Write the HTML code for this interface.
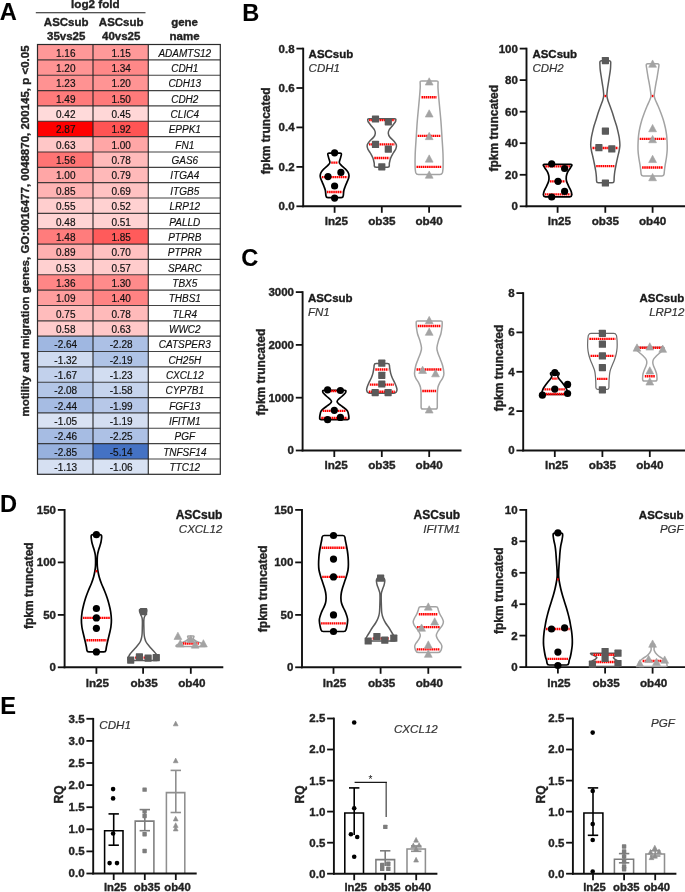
<!DOCTYPE html>
<html><head><meta charset="utf-8"><style>
html,body{margin:0;padding:0;background:#fff;}
body{width:685px;height:892px;overflow:hidden;}
svg{display:block;font-family:"Liberation Sans", sans-serif;will-change:transform;}
</style></head><body>
<svg width="685" height="892" viewBox="0 0 685 892" font-family="'Liberation Sans', sans-serif">
<rect width="685" height="892" fill="#fff"/>
<rect x="37.5" y="44.50" width="55.50" height="15.35" fill="rgb(255,152,152)"/>
<rect x="93.0" y="44.50" width="55.30" height="15.35" fill="rgb(255,153,153)"/>
<text x="65.75" y="56.67" font-size="10" font-weight="normal" font-style="normal" text-anchor="middle" fill="#111"  stroke="#111" stroke-width="0.18">1.16</text>
<text x="121.15" y="56.67" font-size="10" font-weight="normal" font-style="normal" text-anchor="middle" fill="#111"  stroke="#111" stroke-width="0.18">1.15</text>
<text x="184.80" y="56.67" font-size="10" font-weight="normal" font-style="italic" text-anchor="middle" fill="#111"  stroke="#111" stroke-width="0.15">ADAMTS12</text>
<rect x="37.5" y="59.85" width="55.50" height="15.35" fill="rgb(255,148,148)"/>
<rect x="93.0" y="59.85" width="55.30" height="15.35" fill="rgb(255,136,136)"/>
<text x="65.75" y="72.03" font-size="10" font-weight="normal" font-style="normal" text-anchor="middle" fill="#111"  stroke="#111" stroke-width="0.18">1.20</text>
<text x="121.15" y="72.03" font-size="10" font-weight="normal" font-style="normal" text-anchor="middle" fill="#111"  stroke="#111" stroke-width="0.18">1.34</text>
<text x="184.80" y="72.03" font-size="10" font-weight="normal" font-style="italic" text-anchor="middle" fill="#111"  stroke="#111" stroke-width="0.15">CDH1</text>
<rect x="37.5" y="75.20" width="55.50" height="15.35" fill="rgb(255,146,146)"/>
<rect x="93.0" y="75.20" width="55.30" height="15.35" fill="rgb(255,148,148)"/>
<text x="65.75" y="87.38" font-size="10" font-weight="normal" font-style="normal" text-anchor="middle" fill="#111"  stroke="#111" stroke-width="0.18">1.23</text>
<text x="121.15" y="87.38" font-size="10" font-weight="normal" font-style="normal" text-anchor="middle" fill="#111"  stroke="#111" stroke-width="0.18">1.20</text>
<text x="184.80" y="87.38" font-size="10" font-weight="normal" font-style="italic" text-anchor="middle" fill="#111"  stroke="#111" stroke-width="0.15">CDH13</text>
<rect x="37.5" y="90.55" width="55.50" height="15.35" fill="rgb(255,123,123)"/>
<rect x="93.0" y="90.55" width="55.30" height="15.35" fill="rgb(255,122,122)"/>
<text x="65.75" y="102.72" font-size="10" font-weight="normal" font-style="normal" text-anchor="middle" fill="#111"  stroke="#111" stroke-width="0.18">1.49</text>
<text x="121.15" y="102.72" font-size="10" font-weight="normal" font-style="normal" text-anchor="middle" fill="#111"  stroke="#111" stroke-width="0.18">1.50</text>
<text x="184.80" y="102.72" font-size="10" font-weight="normal" font-style="italic" text-anchor="middle" fill="#111"  stroke="#111" stroke-width="0.15">CDH2</text>
<rect x="37.5" y="105.90" width="55.50" height="15.35" fill="rgb(255,218,218)"/>
<rect x="93.0" y="105.90" width="55.30" height="15.35" fill="rgb(255,215,215)"/>
<text x="65.75" y="118.08" font-size="10" font-weight="normal" font-style="normal" text-anchor="middle" fill="#111"  stroke="#111" stroke-width="0.18">0.42</text>
<text x="121.15" y="118.08" font-size="10" font-weight="normal" font-style="normal" text-anchor="middle" fill="#111"  stroke="#111" stroke-width="0.18">0.45</text>
<text x="184.80" y="118.08" font-size="10" font-weight="normal" font-style="italic" text-anchor="middle" fill="#111"  stroke="#111" stroke-width="0.15">CLIC4</text>
<rect x="37.5" y="121.25" width="55.50" height="15.35" fill="rgb(255,0,0)"/>
<rect x="93.0" y="121.25" width="55.30" height="15.35" fill="rgb(255,84,84)"/>
<text x="65.75" y="133.43" font-size="10" font-weight="normal" font-style="normal" text-anchor="middle" fill="#111"  stroke="#111" stroke-width="0.18">2.87</text>
<text x="121.15" y="133.43" font-size="10" font-weight="normal" font-style="normal" text-anchor="middle" fill="#111"  stroke="#111" stroke-width="0.18">1.92</text>
<text x="184.80" y="133.43" font-size="10" font-weight="normal" font-style="italic" text-anchor="middle" fill="#111"  stroke="#111" stroke-width="0.15">EPPK1</text>
<rect x="37.5" y="136.60" width="55.50" height="15.35" fill="rgb(255,199,199)"/>
<rect x="93.0" y="136.60" width="55.30" height="15.35" fill="rgb(255,166,166)"/>
<text x="65.75" y="148.78" font-size="10" font-weight="normal" font-style="normal" text-anchor="middle" fill="#111"  stroke="#111" stroke-width="0.18">0.63</text>
<text x="121.15" y="148.78" font-size="10" font-weight="normal" font-style="normal" text-anchor="middle" fill="#111"  stroke="#111" stroke-width="0.18">1.00</text>
<text x="184.80" y="148.78" font-size="10" font-weight="normal" font-style="italic" text-anchor="middle" fill="#111"  stroke="#111" stroke-width="0.15">FN1</text>
<rect x="37.5" y="151.95" width="55.50" height="15.35" fill="rgb(255,116,116)"/>
<rect x="93.0" y="151.95" width="55.30" height="15.35" fill="rgb(255,186,186)"/>
<text x="65.75" y="164.12" font-size="10" font-weight="normal" font-style="normal" text-anchor="middle" fill="#111"  stroke="#111" stroke-width="0.18">1.56</text>
<text x="121.15" y="164.12" font-size="10" font-weight="normal" font-style="normal" text-anchor="middle" fill="#111"  stroke="#111" stroke-width="0.18">0.78</text>
<text x="184.80" y="164.12" font-size="10" font-weight="normal" font-style="italic" text-anchor="middle" fill="#111"  stroke="#111" stroke-width="0.15">GAS6</text>
<rect x="37.5" y="167.30" width="55.50" height="15.35" fill="rgb(255,166,166)"/>
<rect x="93.0" y="167.30" width="55.30" height="15.35" fill="rgb(255,185,185)"/>
<text x="65.75" y="179.48" font-size="10" font-weight="normal" font-style="normal" text-anchor="middle" fill="#111"  stroke="#111" stroke-width="0.18">1.00</text>
<text x="121.15" y="179.48" font-size="10" font-weight="normal" font-style="normal" text-anchor="middle" fill="#111"  stroke="#111" stroke-width="0.18">0.79</text>
<text x="184.80" y="179.48" font-size="10" font-weight="normal" font-style="italic" text-anchor="middle" fill="#111"  stroke="#111" stroke-width="0.15">ITGA4</text>
<rect x="37.5" y="182.65" width="55.50" height="15.35" fill="rgb(255,179,179)"/>
<rect x="93.0" y="182.65" width="55.30" height="15.35" fill="rgb(255,194,194)"/>
<text x="65.75" y="194.83" font-size="10" font-weight="normal" font-style="normal" text-anchor="middle" fill="#111"  stroke="#111" stroke-width="0.18">0.85</text>
<text x="121.15" y="194.83" font-size="10" font-weight="normal" font-style="normal" text-anchor="middle" fill="#111"  stroke="#111" stroke-width="0.18">0.69</text>
<text x="184.80" y="194.83" font-size="10" font-weight="normal" font-style="italic" text-anchor="middle" fill="#111"  stroke="#111" stroke-width="0.15">ITGB5</text>
<rect x="37.5" y="198.00" width="55.50" height="15.35" fill="rgb(255,206,206)"/>
<rect x="93.0" y="198.00" width="55.30" height="15.35" fill="rgb(255,209,209)"/>
<text x="65.75" y="210.18" font-size="10" font-weight="normal" font-style="normal" text-anchor="middle" fill="#111"  stroke="#111" stroke-width="0.18">0.55</text>
<text x="121.15" y="210.18" font-size="10" font-weight="normal" font-style="normal" text-anchor="middle" fill="#111"  stroke="#111" stroke-width="0.18">0.52</text>
<text x="184.80" y="210.18" font-size="10" font-weight="normal" font-style="italic" text-anchor="middle" fill="#111"  stroke="#111" stroke-width="0.15">LRP12</text>
<rect x="37.5" y="213.35" width="55.50" height="15.35" fill="rgb(255,212,212)"/>
<rect x="93.0" y="213.35" width="55.30" height="15.35" fill="rgb(255,210,210)"/>
<text x="65.75" y="225.53" font-size="10" font-weight="normal" font-style="normal" text-anchor="middle" fill="#111"  stroke="#111" stroke-width="0.18">0.48</text>
<text x="121.15" y="225.53" font-size="10" font-weight="normal" font-style="normal" text-anchor="middle" fill="#111"  stroke="#111" stroke-width="0.18">0.51</text>
<text x="184.80" y="225.53" font-size="10" font-weight="normal" font-style="italic" text-anchor="middle" fill="#111"  stroke="#111" stroke-width="0.15">PALLD</text>
<rect x="37.5" y="228.70" width="55.50" height="15.35" fill="rgb(255,124,124)"/>
<rect x="93.0" y="228.70" width="55.30" height="15.35" fill="rgb(255,91,91)"/>
<text x="65.75" y="240.88" font-size="10" font-weight="normal" font-style="normal" text-anchor="middle" fill="#111"  stroke="#111" stroke-width="0.18">1.48</text>
<text x="121.15" y="240.88" font-size="10" font-weight="normal" font-style="normal" text-anchor="middle" fill="#111"  stroke="#111" stroke-width="0.18">1.85</text>
<text x="184.80" y="240.88" font-size="10" font-weight="normal" font-style="italic" text-anchor="middle" fill="#111"  stroke="#111" stroke-width="0.15">PTPRB</text>
<rect x="37.5" y="244.05" width="55.50" height="15.35" fill="rgb(255,176,176)"/>
<rect x="93.0" y="244.05" width="55.30" height="15.35" fill="rgb(255,193,193)"/>
<text x="65.75" y="256.23" font-size="10" font-weight="normal" font-style="normal" text-anchor="middle" fill="#111"  stroke="#111" stroke-width="0.18">0.89</text>
<text x="121.15" y="256.23" font-size="10" font-weight="normal" font-style="normal" text-anchor="middle" fill="#111"  stroke="#111" stroke-width="0.18">0.70</text>
<text x="184.80" y="256.23" font-size="10" font-weight="normal" font-style="italic" text-anchor="middle" fill="#111"  stroke="#111" stroke-width="0.15">PTPRR</text>
<rect x="37.5" y="259.40" width="55.50" height="15.35" fill="rgb(255,208,208)"/>
<rect x="93.0" y="259.40" width="55.30" height="15.35" fill="rgb(255,204,204)"/>
<text x="65.75" y="271.57" font-size="10" font-weight="normal" font-style="normal" text-anchor="middle" fill="#111"  stroke="#111" stroke-width="0.18">0.53</text>
<text x="121.15" y="271.57" font-size="10" font-weight="normal" font-style="normal" text-anchor="middle" fill="#111"  stroke="#111" stroke-width="0.18">0.57</text>
<text x="184.80" y="271.57" font-size="10" font-weight="normal" font-style="italic" text-anchor="middle" fill="#111"  stroke="#111" stroke-width="0.15">SPARC</text>
<rect x="37.5" y="274.75" width="55.50" height="15.35" fill="rgb(255,134,134)"/>
<rect x="93.0" y="274.75" width="55.30" height="15.35" fill="rgb(255,139,139)"/>
<text x="65.75" y="286.93" font-size="10" font-weight="normal" font-style="normal" text-anchor="middle" fill="#111"  stroke="#111" stroke-width="0.18">1.36</text>
<text x="121.15" y="286.93" font-size="10" font-weight="normal" font-style="normal" text-anchor="middle" fill="#111"  stroke="#111" stroke-width="0.18">1.30</text>
<text x="184.80" y="286.93" font-size="10" font-weight="normal" font-style="italic" text-anchor="middle" fill="#111"  stroke="#111" stroke-width="0.15">TBX5</text>
<rect x="37.5" y="290.10" width="55.50" height="15.35" fill="rgb(255,158,158)"/>
<rect x="93.0" y="290.10" width="55.30" height="15.35" fill="rgb(255,131,131)"/>
<text x="65.75" y="302.28" font-size="10" font-weight="normal" font-style="normal" text-anchor="middle" fill="#111"  stroke="#111" stroke-width="0.18">1.09</text>
<text x="121.15" y="302.28" font-size="10" font-weight="normal" font-style="normal" text-anchor="middle" fill="#111"  stroke="#111" stroke-width="0.18">1.40</text>
<text x="184.80" y="302.28" font-size="10" font-weight="normal" font-style="italic" text-anchor="middle" fill="#111"  stroke="#111" stroke-width="0.15">THBS1</text>
<rect x="37.5" y="305.45" width="55.50" height="15.35" fill="rgb(255,188,188)"/>
<rect x="93.0" y="305.45" width="55.30" height="15.35" fill="rgb(255,186,186)"/>
<text x="65.75" y="317.62" font-size="10" font-weight="normal" font-style="normal" text-anchor="middle" fill="#111"  stroke="#111" stroke-width="0.18">0.75</text>
<text x="121.15" y="317.62" font-size="10" font-weight="normal" font-style="normal" text-anchor="middle" fill="#111"  stroke="#111" stroke-width="0.18">0.78</text>
<text x="184.80" y="317.62" font-size="10" font-weight="normal" font-style="italic" text-anchor="middle" fill="#111"  stroke="#111" stroke-width="0.15">TLR4</text>
<rect x="37.5" y="320.80" width="55.50" height="15.35" fill="rgb(255,203,203)"/>
<rect x="93.0" y="320.80" width="55.30" height="15.35" fill="rgb(255,199,199)"/>
<text x="65.75" y="332.98" font-size="10" font-weight="normal" font-style="normal" text-anchor="middle" fill="#111"  stroke="#111" stroke-width="0.18">0.58</text>
<text x="121.15" y="332.98" font-size="10" font-weight="normal" font-style="normal" text-anchor="middle" fill="#111"  stroke="#111" stroke-width="0.18">0.63</text>
<text x="184.80" y="332.98" font-size="10" font-weight="normal" font-style="italic" text-anchor="middle" fill="#111"  stroke="#111" stroke-width="0.15">WWC2</text>
<rect x="37.5" y="336.15" width="55.50" height="15.35" fill="rgb(159,183,225)"/>
<rect x="93.0" y="336.15" width="55.30" height="15.35" fill="rgb(172,192,229)"/>
<text x="65.75" y="348.32" font-size="10" font-weight="normal" font-style="normal" text-anchor="middle" fill="#111"  stroke="#111" stroke-width="0.18">-2.64</text>
<text x="121.15" y="348.32" font-size="10" font-weight="normal" font-style="normal" text-anchor="middle" fill="#111"  stroke="#111" stroke-width="0.18">-2.28</text>
<text x="184.80" y="348.32" font-size="10" font-weight="normal" font-style="italic" text-anchor="middle" fill="#111"  stroke="#111" stroke-width="0.15">CATSPER3</text>
<rect x="37.5" y="351.50" width="55.50" height="15.35" fill="rgb(207,219,240)"/>
<rect x="93.0" y="351.50" width="55.30" height="15.35" fill="rgb(175,195,230)"/>
<text x="65.75" y="363.68" font-size="10" font-weight="normal" font-style="normal" text-anchor="middle" fill="#111"  stroke="#111" stroke-width="0.18">-1.32</text>
<text x="121.15" y="363.68" font-size="10" font-weight="normal" font-style="normal" text-anchor="middle" fill="#111"  stroke="#111" stroke-width="0.18">-2.19</text>
<text x="184.80" y="363.68" font-size="10" font-weight="normal" font-style="italic" text-anchor="middle" fill="#111"  stroke="#111" stroke-width="0.15">CH25H</text>
<rect x="37.5" y="366.85" width="55.50" height="15.35" fill="rgb(194,209,236)"/>
<rect x="93.0" y="366.85" width="55.30" height="15.35" fill="rgb(210,221,241)"/>
<text x="65.75" y="379.02" font-size="10" font-weight="normal" font-style="normal" text-anchor="middle" fill="#111"  stroke="#111" stroke-width="0.18">-1.67</text>
<text x="121.15" y="379.02" font-size="10" font-weight="normal" font-style="normal" text-anchor="middle" fill="#111"  stroke="#111" stroke-width="0.18">-1.23</text>
<text x="184.80" y="379.02" font-size="10" font-weight="normal" font-style="italic" text-anchor="middle" fill="#111"  stroke="#111" stroke-width="0.15">CXCL12</text>
<rect x="37.5" y="382.20" width="55.50" height="15.35" fill="rgb(179,198,231)"/>
<rect x="93.0" y="382.20" width="55.30" height="15.35" fill="rgb(198,212,237)"/>
<text x="65.75" y="394.38" font-size="10" font-weight="normal" font-style="normal" text-anchor="middle" fill="#111"  stroke="#111" stroke-width="0.18">-2.08</text>
<text x="121.15" y="394.38" font-size="10" font-weight="normal" font-style="normal" text-anchor="middle" fill="#111"  stroke="#111" stroke-width="0.18">-1.58</text>
<text x="184.80" y="394.38" font-size="10" font-weight="normal" font-style="italic" text-anchor="middle" fill="#111"  stroke="#111" stroke-width="0.15">CYP7B1</text>
<rect x="37.5" y="397.55" width="55.50" height="15.35" fill="rgb(166,188,227)"/>
<rect x="93.0" y="397.55" width="55.30" height="15.35" fill="rgb(183,200,232)"/>
<text x="65.75" y="409.73" font-size="10" font-weight="normal" font-style="normal" text-anchor="middle" fill="#111"  stroke="#111" stroke-width="0.18">-2.44</text>
<text x="121.15" y="409.73" font-size="10" font-weight="normal" font-style="normal" text-anchor="middle" fill="#111"  stroke="#111" stroke-width="0.18">-1.99</text>
<text x="184.80" y="409.73" font-size="10" font-weight="normal" font-style="italic" text-anchor="middle" fill="#111"  stroke="#111" stroke-width="0.15">FGF13</text>
<rect x="37.5" y="412.90" width="55.50" height="15.35" fill="rgb(217,226,243)"/>
<rect x="93.0" y="412.90" width="55.30" height="15.35" fill="rgb(212,222,241)"/>
<text x="65.75" y="425.07" font-size="10" font-weight="normal" font-style="normal" text-anchor="middle" fill="#111"  stroke="#111" stroke-width="0.18">-1.05</text>
<text x="121.15" y="425.07" font-size="10" font-weight="normal" font-style="normal" text-anchor="middle" fill="#111"  stroke="#111" stroke-width="0.18">-1.19</text>
<text x="184.80" y="425.07" font-size="10" font-weight="normal" font-style="italic" text-anchor="middle" fill="#111"  stroke="#111" stroke-width="0.15">IFITM1</text>
<rect x="37.5" y="428.25" width="55.50" height="15.35" fill="rgb(166,188,227)"/>
<rect x="93.0" y="428.25" width="55.30" height="15.35" fill="rgb(173,193,229)"/>
<text x="65.75" y="440.43" font-size="10" font-weight="normal" font-style="normal" text-anchor="middle" fill="#111"  stroke="#111" stroke-width="0.18">-2.46</text>
<text x="121.15" y="440.43" font-size="10" font-weight="normal" font-style="normal" text-anchor="middle" fill="#111"  stroke="#111" stroke-width="0.18">-2.25</text>
<text x="184.80" y="440.43" font-size="10" font-weight="normal" font-style="italic" text-anchor="middle" fill="#111"  stroke="#111" stroke-width="0.15">PGF</text>
<rect x="37.5" y="443.60" width="55.50" height="15.35" fill="rgb(151,177,222)"/>
<rect x="93.0" y="443.60" width="55.30" height="15.35" fill="rgb(68,114,196)"/>
<text x="65.75" y="455.77" font-size="10" font-weight="normal" font-style="normal" text-anchor="middle" fill="#111"  stroke="#111" stroke-width="0.18">-2.85</text>
<text x="121.15" y="455.77" font-size="10" font-weight="normal" font-style="normal" text-anchor="middle" fill="#111"  stroke="#111" stroke-width="0.18">-5.14</text>
<text x="184.80" y="455.77" font-size="10" font-weight="normal" font-style="italic" text-anchor="middle" fill="#111"  stroke="#111" stroke-width="0.15">TNFSF14</text>
<rect x="37.5" y="458.95" width="55.50" height="15.35" fill="rgb(214,224,242)"/>
<rect x="93.0" y="458.95" width="55.30" height="15.35" fill="rgb(216,226,243)"/>
<text x="65.75" y="471.12" font-size="10" font-weight="normal" font-style="normal" text-anchor="middle" fill="#111"  stroke="#111" stroke-width="0.18">-1.13</text>
<text x="121.15" y="471.12" font-size="10" font-weight="normal" font-style="normal" text-anchor="middle" fill="#111"  stroke="#111" stroke-width="0.18">-1.06</text>
<text x="184.80" y="471.12" font-size="10" font-weight="normal" font-style="italic" text-anchor="middle" fill="#111"  stroke="#111" stroke-width="0.15">TTC12</text>
<line x1="37.50" y1="59.85" x2="220.30" y2="59.85" stroke="#222" stroke-width="1.15" stroke-opacity="0.85"/>
<line x1="37.50" y1="75.20" x2="220.30" y2="75.20" stroke="#222" stroke-width="1.15" stroke-opacity="0.85"/>
<line x1="37.50" y1="90.55" x2="220.30" y2="90.55" stroke="#222" stroke-width="1.15" stroke-opacity="0.85"/>
<line x1="37.50" y1="105.90" x2="220.30" y2="105.90" stroke="#222" stroke-width="1.15" stroke-opacity="0.85"/>
<line x1="37.50" y1="121.25" x2="220.30" y2="121.25" stroke="#222" stroke-width="1.15" stroke-opacity="0.85"/>
<line x1="37.50" y1="136.60" x2="220.30" y2="136.60" stroke="#222" stroke-width="1.15" stroke-opacity="0.85"/>
<line x1="37.50" y1="151.95" x2="220.30" y2="151.95" stroke="#222" stroke-width="1.15" stroke-opacity="0.85"/>
<line x1="37.50" y1="167.30" x2="220.30" y2="167.30" stroke="#222" stroke-width="1.15" stroke-opacity="0.85"/>
<line x1="37.50" y1="182.65" x2="220.30" y2="182.65" stroke="#222" stroke-width="1.15" stroke-opacity="0.85"/>
<line x1="37.50" y1="198.00" x2="220.30" y2="198.00" stroke="#222" stroke-width="1.15" stroke-opacity="0.85"/>
<line x1="37.50" y1="213.35" x2="220.30" y2="213.35" stroke="#222" stroke-width="1.15" stroke-opacity="0.85"/>
<line x1="37.50" y1="228.70" x2="220.30" y2="228.70" stroke="#222" stroke-width="1.15" stroke-opacity="0.85"/>
<line x1="37.50" y1="244.05" x2="220.30" y2="244.05" stroke="#222" stroke-width="1.15" stroke-opacity="0.85"/>
<line x1="37.50" y1="259.40" x2="220.30" y2="259.40" stroke="#222" stroke-width="1.15" stroke-opacity="0.85"/>
<line x1="37.50" y1="274.75" x2="220.30" y2="274.75" stroke="#222" stroke-width="1.15" stroke-opacity="0.85"/>
<line x1="37.50" y1="290.10" x2="220.30" y2="290.10" stroke="#222" stroke-width="1.15" stroke-opacity="0.85"/>
<line x1="37.50" y1="305.45" x2="220.30" y2="305.45" stroke="#222" stroke-width="1.15" stroke-opacity="0.85"/>
<line x1="37.50" y1="320.80" x2="220.30" y2="320.80" stroke="#222" stroke-width="1.15" stroke-opacity="0.85"/>
<line x1="37.50" y1="336.15" x2="220.30" y2="336.15" stroke="#222" stroke-width="1.15" stroke-opacity="0.85"/>
<line x1="37.50" y1="351.50" x2="220.30" y2="351.50" stroke="#222" stroke-width="1.15" stroke-opacity="0.85"/>
<line x1="37.50" y1="366.85" x2="220.30" y2="366.85" stroke="#222" stroke-width="1.15" stroke-opacity="0.85"/>
<line x1="37.50" y1="382.20" x2="220.30" y2="382.20" stroke="#222" stroke-width="1.15" stroke-opacity="0.85"/>
<line x1="37.50" y1="397.55" x2="220.30" y2="397.55" stroke="#222" stroke-width="1.15" stroke-opacity="0.85"/>
<line x1="37.50" y1="412.90" x2="220.30" y2="412.90" stroke="#222" stroke-width="1.15" stroke-opacity="0.85"/>
<line x1="37.50" y1="428.25" x2="220.30" y2="428.25" stroke="#222" stroke-width="1.15" stroke-opacity="0.85"/>
<line x1="37.50" y1="443.60" x2="220.30" y2="443.60" stroke="#222" stroke-width="1.15" stroke-opacity="0.85"/>
<line x1="37.50" y1="458.95" x2="220.30" y2="458.95" stroke="#222" stroke-width="1.15" stroke-opacity="0.85"/>
<line x1="93.00" y1="44.50" x2="93.00" y2="474.30" stroke="#222" stroke-width="1.2" stroke-opacity="0.9"/>
<line x1="148.30" y1="44.50" x2="148.30" y2="474.30" stroke="#222" stroke-width="1.2" stroke-opacity="0.9"/>
<rect x="37.5" y="44.5" width="182.80" height="429.80" fill="none" stroke="#2a2a2a" stroke-width="1.2"/>
<text x="-0.20" y="20.30" font-size="23.6" font-weight="bold" font-style="normal" text-anchor="start" fill="#000" stroke="#000" stroke-width="0.1" >A</text>
<text x="95.40" y="8.30" font-size="11.7" font-weight="bold" font-style="normal" text-anchor="middle" fill="#222" stroke="#222" stroke-width="0.35" >log2 fold</text>
<line x1="35.80" y1="12.80" x2="145.50" y2="12.80" stroke="#1a1a1a" stroke-width="1.1" />
<text x="66.20" y="26.20" font-size="11.5" font-weight="bold" font-style="normal" text-anchor="middle" fill="#222" stroke="#222" stroke-width="0.35" >ASCsub</text>
<text x="66.20" y="39.80" font-size="11.5" font-weight="bold" font-style="normal" text-anchor="middle" fill="#222" stroke="#222" stroke-width="0.35" >35vs25</text>
<text x="121.20" y="26.20" font-size="11.5" font-weight="bold" font-style="normal" text-anchor="middle" fill="#222" stroke="#222" stroke-width="0.35" >ASCsub</text>
<text x="121.20" y="39.80" font-size="11.5" font-weight="bold" font-style="normal" text-anchor="middle" fill="#222" stroke="#222" stroke-width="0.35" >40vs25</text>
<text x="184.60" y="26.40" font-size="11.5" font-weight="bold" font-style="normal" text-anchor="middle" fill="#222" stroke="#222" stroke-width="0.35" >gene</text>
<text x="184.60" y="40.10" font-size="11.5" font-weight="bold" font-style="normal" text-anchor="middle" fill="#222" stroke="#222" stroke-width="0.35" >name</text>
<text transform="translate(28.6,231) rotate(-90)" font-size="11.5" font-weight="bold" text-anchor="middle" fill="#222" stroke="#222" stroke-width="0.35">motility and migration genes, GO:0016477, 0048870, 200145, p &lt;0.05</text>
<text x="242.30" y="20.50" font-size="23.6" font-weight="bold" font-style="normal" text-anchor="start" fill="#000" stroke="#000" stroke-width="0.1" >B</text>
<line x1="303.20" y1="47.70" x2="303.20" y2="207.20" stroke="#111" stroke-width="1.9" />
<line x1="296.40" y1="48.60" x2="303.20" y2="48.60" stroke="#111" stroke-width="1.8" />
<text x="294.60" y="52.50" font-size="11.5" font-weight="bold" font-style="normal" text-anchor="end" fill="#222" stroke="#222" stroke-width="0.35" >0.8</text>
<line x1="296.40" y1="88.00" x2="303.20" y2="88.00" stroke="#111" stroke-width="1.8" />
<text x="294.60" y="91.90" font-size="11.5" font-weight="bold" font-style="normal" text-anchor="end" fill="#222" stroke="#222" stroke-width="0.35" >0.6</text>
<line x1="296.40" y1="127.40" x2="303.20" y2="127.40" stroke="#111" stroke-width="1.8" />
<text x="294.60" y="131.30" font-size="11.5" font-weight="bold" font-style="normal" text-anchor="end" fill="#222" stroke="#222" stroke-width="0.35" >0.4</text>
<line x1="296.40" y1="166.90" x2="303.20" y2="166.90" stroke="#111" stroke-width="1.8" />
<text x="294.60" y="170.80" font-size="11.5" font-weight="bold" font-style="normal" text-anchor="end" fill="#222" stroke="#222" stroke-width="0.35" >0.2</text>
<line x1="296.40" y1="206.30" x2="303.20" y2="206.30" stroke="#111" stroke-width="1.8" />
<text x="294.60" y="210.20" font-size="11.5" font-weight="bold" font-style="normal" text-anchor="end" fill="#222" stroke="#222" stroke-width="0.35" >0.0</text>
<line x1="302.30" y1="206.30" x2="461.50" y2="206.30" stroke="#111" stroke-width="1.9" />
<line x1="334.60" y1="206.30" x2="334.60" y2="212.80" stroke="#111" stroke-width="1.8" />
<text x="336.40" y="224.50" font-size="11.7" font-weight="bold" font-style="normal" text-anchor="middle" fill="#222" stroke="#222" stroke-width="0.35" >ln25</text>
<line x1="381.80" y1="206.30" x2="381.80" y2="212.80" stroke="#111" stroke-width="1.8" />
<text x="381.80" y="224.50" font-size="11.7" font-weight="bold" font-style="normal" text-anchor="middle" fill="#222" stroke="#222" stroke-width="0.35" >ob35</text>
<line x1="429.10" y1="206.30" x2="429.10" y2="212.80" stroke="#111" stroke-width="1.8" />
<text x="429.10" y="224.50" font-size="11.7" font-weight="bold" font-style="normal" text-anchor="middle" fill="#222" stroke="#222" stroke-width="0.35" >ob40</text>
<text transform="translate(269.85,130.85) rotate(-90)" font-size="12" font-weight="bold" text-anchor="middle" fill="#222" stroke="#222" stroke-width="0.35">fpkm truncated</text>
<text x="308.60" y="57.70" font-size="11.5" font-weight="bold" font-style="normal" text-anchor="start" fill="#1a1a1a" stroke="#1a1a1a" stroke-width="0.35" >ASCsub</text>
<text x="308.60" y="71.70" font-size="11.5" font-weight="normal" font-style="italic" text-anchor="start" fill="#333"  stroke="#333" stroke-width="0.2">CDH1</text>
<path d="M329.20,153.10 L340.00,153.10 Q341.80,153.10 341.32,154.90 C341.17,155.48 340.74,157.13 340.40,158.40 C340.06,159.67 339.18,161.37 339.30,162.50 C339.42,163.63 340.18,164.20 341.10,165.20 C342.02,166.20 343.68,167.38 344.80,168.50 C345.92,169.62 347.10,170.77 347.80,171.90 C348.50,173.03 348.88,174.18 349.00,175.30 C349.12,176.42 348.87,177.38 348.50,178.60 C348.13,179.82 347.37,181.25 346.80,182.60 C346.23,183.95 345.60,185.35 345.10,186.70 C344.60,188.05 344.08,189.37 343.80,190.70 C343.52,192.03 343.49,193.85 343.40,194.70 C343.31,195.55 343.27,195.62 343.25,195.80 Q343.00,197.60 341.20,197.60 L328.00,197.60 Q326.20,197.60 325.95,195.80 C325.93,195.62 325.89,195.55 325.80,194.70 C325.71,193.85 325.68,192.03 325.40,190.70 C325.12,189.37 324.60,188.05 324.10,186.70 C323.60,185.35 322.97,183.95 322.40,182.60 C321.83,181.25 321.07,179.82 320.70,178.60 C320.33,177.38 320.08,176.42 320.20,175.30 C320.32,174.18 320.70,173.03 321.40,171.90 C322.10,170.77 323.28,169.62 324.40,168.50 C325.52,167.38 327.18,166.20 328.10,165.20 C329.02,164.20 329.78,163.63 329.90,162.50 C330.02,161.37 329.14,159.67 328.80,158.40 C328.46,157.13 328.03,155.48 327.88,154.90 Q327.40,153.10 329.20,153.10 Z" fill="none" stroke="#000" stroke-width="1.7" stroke-linejoin="round"/>
<path d="M369.00,118.80 L394.60,118.80 Q396.40,118.80 395.78,120.60 C395.70,120.83 395.96,121.02 395.30,122.00 C394.64,122.98 392.83,125.17 391.80,126.50 C390.77,127.83 389.68,128.87 389.10,130.00 C388.52,131.13 388.18,132.13 388.30,133.30 C388.42,134.47 388.88,135.72 389.80,137.00 C390.72,138.28 392.70,139.67 393.80,141.00 C394.90,142.33 396.07,143.67 396.40,145.00 C396.73,146.33 396.32,147.67 395.80,149.00 C395.28,150.33 394.15,151.50 393.30,153.00 C392.45,154.50 391.35,156.33 390.70,158.00 C390.05,159.67 389.63,161.75 389.40,163.00 C389.17,164.25 389.35,165.08 389.34,165.50 Q389.30,167.30 387.50,167.30 L376.10,167.30 Q374.30,167.30 374.26,165.50 C374.25,165.08 374.43,164.25 374.20,163.00 C373.97,161.75 373.55,159.67 372.90,158.00 C372.25,156.33 371.15,154.50 370.30,153.00 C369.45,151.50 368.32,150.33 367.80,149.00 C367.28,147.67 366.87,146.33 367.20,145.00 C367.53,143.67 368.70,142.33 369.80,141.00 C370.90,139.67 372.88,138.28 373.80,137.00 C374.72,135.72 375.18,134.47 375.30,133.30 C375.42,132.13 375.08,131.13 374.50,130.00 C373.92,128.87 372.83,127.83 371.80,126.50 C370.77,125.17 368.96,122.98 368.30,122.00 C367.64,121.02 367.90,120.83 367.82,120.60 Q367.20,118.80 369.00,118.80 Z" fill="none" stroke="#5a5a5a" stroke-width="1.5" stroke-linejoin="round"/>
<path d="M421.80,80.90 L436.40,80.90 Q438.20,80.90 438.08,82.70 C438.07,82.92 438.01,83.12 438.00,84.00 C437.99,84.88 437.88,85.78 438.00,88.00 C438.12,90.22 438.42,93.97 438.70,97.30 C438.98,100.63 439.33,104.05 439.70,108.00 C440.07,111.95 440.53,116.33 440.90,121.00 C441.27,125.67 441.55,130.50 441.90,136.00 C442.25,141.50 442.80,148.83 443.00,154.00 C443.20,159.17 443.17,164.00 443.10,167.00 C443.03,170.00 442.73,171.05 442.60,172.00 C442.47,172.95 442.39,172.58 442.35,172.70 Q441.70,174.50 439.90,174.50 L418.30,174.50 Q416.50,174.50 415.85,172.70 C415.81,172.58 415.73,172.95 415.60,172.00 C415.47,171.05 415.17,170.00 415.10,167.00 C415.03,164.00 415.00,159.17 415.20,154.00 C415.40,148.83 415.95,141.50 416.30,136.00 C416.65,130.50 416.93,125.67 417.30,121.00 C417.67,116.33 418.13,111.95 418.50,108.00 C418.87,104.05 419.22,100.63 419.50,97.30 C419.78,93.97 420.08,90.22 420.20,88.00 C420.32,85.78 420.21,84.88 420.20,84.00 C420.19,83.12 420.13,82.92 420.12,82.70 Q420.00,80.90 421.80,80.90 Z" fill="none" stroke="#a3a3a3" stroke-width="1.5" stroke-linejoin="round"/>
<line x1="331.23" y1="162.60" x2="337.97" y2="162.60" stroke="#ff0000" stroke-width="2.35" stroke-dasharray="1.6 0.5"/>
<line x1="321.87" y1="177.10" x2="347.33" y2="177.10" stroke="#ff0000" stroke-width="2.35" stroke-dasharray="1.6 0.5"/>
<line x1="326.93" y1="192.00" x2="342.27" y2="192.00" stroke="#ff0000" stroke-width="2.35" stroke-dasharray="1.6 0.5"/>
<line x1="369.05" y1="120.10" x2="394.55" y2="120.10" stroke="#ff0000" stroke-width="2.35" stroke-dasharray="1.6 0.5"/>
<line x1="368.99" y1="144.40" x2="394.61" y2="144.40" stroke="#ff0000" stroke-width="2.35" stroke-dasharray="1.6 0.5"/>
<line x1="374.30" y1="158.00" x2="389.30" y2="158.00" stroke="#ff0000" stroke-width="2.35" stroke-dasharray="1.6 0.5"/>
<line x1="421.50" y1="97.20" x2="436.70" y2="97.20" stroke="#ff0000" stroke-width="2.35" stroke-dasharray="1.6 0.5"/>
<line x1="417.71" y1="135.80" x2="440.49" y2="135.80" stroke="#ff0000" stroke-width="2.35" stroke-dasharray="1.6 0.5"/>
<line x1="416.50" y1="166.80" x2="441.70" y2="166.80" stroke="#ff0000" stroke-width="2.35" stroke-dasharray="1.6 0.5"/>
<circle cx="334.60" cy="152.80" r="3.6" fill="#000"/>
<circle cx="328.00" cy="176.60" r="3.6" fill="#000"/>
<circle cx="340.90" cy="172.40" r="3.6" fill="#000"/>
<circle cx="334.60" cy="186.00" r="3.6" fill="#000"/>
<circle cx="334.60" cy="198.10" r="3.6" fill="#000"/>
<rect x="371.90" y="115.40" width="7.2" height="7.2" rx="0.6" fill="#5a5a5a"/>
<rect x="384.70" y="118.20" width="7.2" height="7.2" rx="0.6" fill="#5a5a5a"/>
<rect x="371.90" y="140.80" width="7.2" height="7.2" rx="0.6" fill="#5a5a5a"/>
<rect x="384.70" y="145.50" width="7.2" height="7.2" rx="0.6" fill="#5a5a5a"/>
<rect x="378.20" y="163.20" width="7.2" height="7.2" rx="0.6" fill="#5a5a5a"/>
<path d="M429.20,77.75 L433.10,85.05 L425.30,85.05 Z" fill="#a3a3a3" stroke="#a3a3a3" stroke-width="0.6" stroke-linejoin="round"/>
<path d="M429.20,109.75 L433.10,117.05 L425.30,117.05 Z" fill="#a3a3a3" stroke="#a3a3a3" stroke-width="0.6" stroke-linejoin="round"/>
<path d="M429.20,132.35 L433.10,139.65 L425.30,139.65 Z" fill="#a3a3a3" stroke="#a3a3a3" stroke-width="0.6" stroke-linejoin="round"/>
<path d="M429.20,154.85 L433.10,162.15 L425.30,162.15 Z" fill="#a3a3a3" stroke="#a3a3a3" stroke-width="0.6" stroke-linejoin="round"/>
<path d="M429.20,170.95 L433.10,178.25 L425.30,178.25 Z" fill="#a3a3a3" stroke="#a3a3a3" stroke-width="0.6" stroke-linejoin="round"/>
<line x1="526.50" y1="47.70" x2="526.50" y2="207.20" stroke="#111" stroke-width="1.9" />
<line x1="519.70" y1="48.60" x2="526.50" y2="48.60" stroke="#111" stroke-width="1.8" />
<text x="517.90" y="52.50" font-size="11.5" font-weight="bold" font-style="normal" text-anchor="end" fill="#222" stroke="#222" stroke-width="0.35" >100</text>
<line x1="519.70" y1="80.10" x2="526.50" y2="80.10" stroke="#111" stroke-width="1.8" />
<text x="517.90" y="84.00" font-size="11.5" font-weight="bold" font-style="normal" text-anchor="end" fill="#222" stroke="#222" stroke-width="0.35" >80</text>
<line x1="519.70" y1="111.70" x2="526.50" y2="111.70" stroke="#111" stroke-width="1.8" />
<text x="517.90" y="115.60" font-size="11.5" font-weight="bold" font-style="normal" text-anchor="end" fill="#222" stroke="#222" stroke-width="0.35" >60</text>
<line x1="519.70" y1="143.20" x2="526.50" y2="143.20" stroke="#111" stroke-width="1.8" />
<text x="517.90" y="147.10" font-size="11.5" font-weight="bold" font-style="normal" text-anchor="end" fill="#222" stroke="#222" stroke-width="0.35" >40</text>
<line x1="519.70" y1="174.80" x2="526.50" y2="174.80" stroke="#111" stroke-width="1.8" />
<text x="517.90" y="178.70" font-size="11.5" font-weight="bold" font-style="normal" text-anchor="end" fill="#222" stroke="#222" stroke-width="0.35" >20</text>
<line x1="519.70" y1="206.30" x2="526.50" y2="206.30" stroke="#111" stroke-width="1.8" />
<text x="517.90" y="210.20" font-size="11.5" font-weight="bold" font-style="normal" text-anchor="end" fill="#222" stroke="#222" stroke-width="0.35" >0</text>
<line x1="525.60" y1="206.30" x2="685.00" y2="206.30" stroke="#111" stroke-width="1.9" />
<line x1="557.60" y1="206.30" x2="557.60" y2="212.80" stroke="#111" stroke-width="1.8" />
<text x="559.40" y="224.50" font-size="11.7" font-weight="bold" font-style="normal" text-anchor="middle" fill="#222" stroke="#222" stroke-width="0.35" >ln25</text>
<line x1="605.30" y1="206.30" x2="605.30" y2="212.80" stroke="#111" stroke-width="1.8" />
<text x="605.30" y="224.50" font-size="11.7" font-weight="bold" font-style="normal" text-anchor="middle" fill="#222" stroke="#222" stroke-width="0.35" >ob35</text>
<line x1="652.60" y1="206.30" x2="652.60" y2="212.80" stroke="#111" stroke-width="1.8" />
<text x="652.60" y="224.50" font-size="11.7" font-weight="bold" font-style="normal" text-anchor="middle" fill="#222" stroke="#222" stroke-width="0.35" >ob40</text>
<text transform="translate(497.75,128.25) rotate(-90)" font-size="12" font-weight="bold" text-anchor="middle" fill="#222" stroke="#222" stroke-width="0.35">fpkm truncated</text>
<text x="532.40" y="57.70" font-size="11.5" font-weight="bold" font-style="normal" text-anchor="start" fill="#1a1a1a" stroke="#1a1a1a" stroke-width="0.35" >ASCsub</text>
<text x="532.40" y="71.70" font-size="11.5" font-weight="normal" font-style="italic" text-anchor="start" fill="#333"  stroke="#333" stroke-width="0.2">CDH2</text>
<path d="M544.28,164.30 L570.92,164.30 Q572.00,164.30 571.82,165.38 C571.82,165.40 572.07,165.03 571.80,165.50 C571.53,165.97 570.92,167.07 570.20,168.20 C569.48,169.33 568.15,170.93 567.50,172.30 C566.85,173.67 566.47,174.95 566.30,176.40 C566.13,177.85 566.12,179.38 566.50,181.00 C566.88,182.62 567.83,184.40 568.60,186.10 C569.37,187.80 570.57,189.80 571.10,191.20 C571.63,192.60 571.69,193.87 571.80,194.50 C571.91,195.13 571.76,194.92 571.76,195.00 Q571.60,196.80 569.80,196.80 L545.40,196.80 Q543.60,196.80 543.44,195.00 C543.44,194.92 543.29,195.13 543.40,194.50 C543.51,193.87 543.57,192.60 544.10,191.20 C544.63,189.80 545.83,187.80 546.60,186.10 C547.37,184.40 548.32,182.62 548.70,181.00 C549.08,179.38 549.07,177.85 548.90,176.40 C548.73,174.95 548.35,173.67 547.70,172.30 C547.05,170.93 545.72,169.33 545.00,168.20 C544.28,167.07 543.67,165.97 543.40,165.50 C543.13,165.03 543.38,165.40 543.38,165.38 Q543.20,164.30 544.28,164.30 Z" fill="none" stroke="#000" stroke-width="1.7" stroke-linejoin="round"/>
<path d="M601.60,60.80 L609.00,60.80 Q610.80,60.80 610.74,62.60 C610.74,62.83 610.76,62.83 610.70,64.00 C610.64,65.17 610.63,67.43 610.40,69.60 C610.17,71.77 609.67,74.58 609.30,77.00 C608.93,79.42 608.53,81.93 608.20,84.10 C607.87,86.27 607.52,88.05 607.30,90.00 C607.08,91.95 606.82,94.13 606.90,95.80 C606.98,97.47 607.28,98.30 607.80,100.00 C608.32,101.70 609.22,103.83 610.00,106.00 C610.78,108.17 611.70,110.58 612.50,113.00 C613.30,115.42 614.12,118.33 614.80,120.50 C615.48,122.67 616.05,124.05 616.60,126.00 C617.15,127.95 617.65,130.20 618.10,132.20 C618.55,134.20 619.00,135.82 619.30,138.00 C619.60,140.18 619.93,143.13 619.90,145.30 C619.87,147.47 619.47,149.05 619.10,151.00 C618.73,152.95 618.18,154.83 617.70,157.00 C617.22,159.17 616.68,161.58 616.20,164.00 C615.72,166.42 615.13,169.33 614.80,171.50 C614.47,173.67 614.32,175.42 614.20,177.00 C614.08,178.58 614.09,180.33 614.06,181.00 Q614.00,182.80 612.20,182.80 L598.40,182.80 Q596.60,182.80 596.54,181.00 C596.51,180.33 596.52,178.58 596.40,177.00 C596.28,175.42 596.13,173.67 595.80,171.50 C595.47,169.33 594.88,166.42 594.40,164.00 C593.92,161.58 593.38,159.17 592.90,157.00 C592.42,154.83 591.87,152.95 591.50,151.00 C591.13,149.05 590.73,147.47 590.70,145.30 C590.67,143.13 591.00,140.18 591.30,138.00 C591.60,135.82 592.05,134.20 592.50,132.20 C592.95,130.20 593.45,127.95 594.00,126.00 C594.55,124.05 595.12,122.67 595.80,120.50 C596.48,118.33 597.30,115.42 598.10,113.00 C598.90,110.58 599.82,108.17 600.60,106.00 C601.38,103.83 602.28,101.70 602.80,100.00 C603.32,98.30 603.62,97.47 603.70,95.80 C603.78,94.13 603.52,91.95 603.30,90.00 C603.08,88.05 602.73,86.27 602.40,84.10 C602.07,81.93 601.67,79.42 601.30,77.00 C600.93,74.58 600.43,71.77 600.20,69.60 C599.97,67.43 599.96,65.17 599.90,64.00 C599.84,62.83 599.86,62.83 599.86,62.60 Q599.80,60.80 601.60,60.80 Z" fill="none" stroke="#5a5a5a" stroke-width="1.5" stroke-linejoin="round"/>
<path d="M647.80,63.70 L657.40,63.70 Q659.20,63.70 658.95,65.50 C658.89,65.92 658.89,66.12 658.60,68.00 C658.31,69.88 657.60,74.47 657.20,76.80 C656.80,79.13 656.55,80.05 656.20,82.00 C655.85,83.95 655.43,86.20 655.10,88.50 C654.77,90.80 654.15,93.88 654.20,95.80 C654.25,97.72 654.75,98.30 655.40,100.00 C656.05,101.70 657.18,103.83 658.10,106.00 C659.02,108.17 660.00,110.58 660.90,113.00 C661.80,115.42 662.75,118.00 663.50,120.50 C664.25,123.00 664.88,125.57 665.40,128.00 C665.92,130.43 666.32,132.77 666.60,135.10 C666.88,137.43 667.00,139.57 667.10,142.00 C667.20,144.43 667.30,147.20 667.20,149.70 C667.10,152.20 666.82,154.58 666.50,157.00 C666.18,159.42 665.63,162.03 665.30,164.20 C664.97,166.37 664.70,168.35 664.50,170.00 C664.30,171.65 664.15,173.42 664.08,174.10 Q663.90,175.90 662.10,175.90 L643.10,175.90 Q641.30,175.90 641.12,174.10 C641.05,173.42 640.90,171.65 640.70,170.00 C640.50,168.35 640.23,166.37 639.90,164.20 C639.57,162.03 639.02,159.42 638.70,157.00 C638.38,154.58 638.10,152.20 638.00,149.70 C637.90,147.20 638.00,144.43 638.10,142.00 C638.20,139.57 638.32,137.43 638.60,135.10 C638.88,132.77 639.28,130.43 639.80,128.00 C640.32,125.57 640.95,123.00 641.70,120.50 C642.45,118.00 643.40,115.42 644.30,113.00 C645.20,110.58 646.18,108.17 647.10,106.00 C648.02,103.83 649.15,101.70 649.80,100.00 C650.45,98.30 650.95,97.72 651.00,95.80 C651.05,93.88 650.43,90.80 650.10,88.50 C649.77,86.20 649.35,83.95 649.00,82.00 C648.65,80.05 648.40,79.13 648.00,76.80 C647.60,74.47 646.89,69.88 646.60,68.00 C646.31,66.12 646.31,65.92 646.25,65.50 Q646.00,63.70 647.80,63.70 Z" fill="none" stroke="#a3a3a3" stroke-width="1.5" stroke-linejoin="round"/>
<line x1="545.33" y1="166.40" x2="569.87" y2="166.40" stroke="#ff0000" stroke-width="2.35" stroke-dasharray="1.6 0.5"/>
<line x1="549.98" y1="181.30" x2="565.22" y2="181.30" stroke="#ff0000" stroke-width="2.35" stroke-dasharray="1.6 0.5"/>
<line x1="544.82" y1="194.40" x2="570.38" y2="194.40" stroke="#ff0000" stroke-width="2.35" stroke-dasharray="1.6 0.5"/>
<line x1="604.50" y1="96.00" x2="606.10" y2="96.00" stroke="#ff0000" stroke-width="2.35" stroke-dasharray="1.6 0.5"/>
<line x1="592.48" y1="148.00" x2="618.12" y2="148.00" stroke="#ff0000" stroke-width="2.35" stroke-dasharray="1.6 0.5"/>
<line x1="596.19" y1="166.10" x2="614.41" y2="166.10" stroke="#ff0000" stroke-width="2.35" stroke-dasharray="1.6 0.5"/>
<line x1="651.80" y1="96.00" x2="653.40" y2="96.00" stroke="#ff0000" stroke-width="2.35" stroke-dasharray="1.6 0.5"/>
<line x1="639.73" y1="138.80" x2="665.47" y2="138.80" stroke="#ff0000" stroke-width="2.35" stroke-dasharray="1.6 0.5"/>
<line x1="642.10" y1="167.50" x2="663.10" y2="167.50" stroke="#ff0000" stroke-width="2.35" stroke-dasharray="1.6 0.5"/>
<circle cx="551.70" cy="163.80" r="3.6" fill="#000"/>
<circle cx="564.60" cy="168.50" r="3.6" fill="#000"/>
<circle cx="558.00" cy="181.30" r="3.6" fill="#000"/>
<circle cx="564.60" cy="191.40" r="3.6" fill="#000"/>
<circle cx="551.70" cy="197.00" r="3.6" fill="#000"/>
<rect x="601.80" y="57.00" width="7.2" height="7.2" rx="0.6" fill="#5a5a5a"/>
<rect x="601.80" y="127.50" width="7.2" height="7.2" rx="0.6" fill="#5a5a5a"/>
<rect x="595.30" y="144.10" width="7.2" height="7.2" rx="0.6" fill="#5a5a5a"/>
<rect x="608.20" y="145.30" width="7.2" height="7.2" rx="0.6" fill="#5a5a5a"/>
<rect x="601.80" y="179.40" width="7.2" height="7.2" rx="0.6" fill="#5a5a5a"/>
<path d="M652.60,59.95 L656.50,67.25 L648.70,67.25 Z" fill="#a3a3a3" stroke="#a3a3a3" stroke-width="0.6" stroke-linejoin="round"/>
<path d="M652.60,124.45 L656.50,131.75 L648.70,131.75 Z" fill="#a3a3a3" stroke="#a3a3a3" stroke-width="0.6" stroke-linejoin="round"/>
<path d="M652.60,135.45 L656.50,142.75 L648.70,142.75 Z" fill="#a3a3a3" stroke="#a3a3a3" stroke-width="0.6" stroke-linejoin="round"/>
<path d="M652.60,155.25 L656.50,162.55 L648.70,162.55 Z" fill="#a3a3a3" stroke="#a3a3a3" stroke-width="0.6" stroke-linejoin="round"/>
<path d="M652.60,173.45 L656.50,180.75 L648.70,180.75 Z" fill="#a3a3a3" stroke="#a3a3a3" stroke-width="0.6" stroke-linejoin="round"/>
<text x="241.30" y="266.30" font-size="23.6" font-weight="bold" font-style="normal" text-anchor="start" fill="#000" stroke="#000" stroke-width="0.1" >C</text>
<line x1="302.60" y1="291.20" x2="302.60" y2="451.40" stroke="#111" stroke-width="1.9" />
<line x1="295.80" y1="292.10" x2="302.60" y2="292.10" stroke="#111" stroke-width="1.8" />
<text x="294.00" y="296.00" font-size="11.5" font-weight="bold" font-style="normal" text-anchor="end" fill="#222" stroke="#222" stroke-width="0.35" >3000</text>
<line x1="295.80" y1="344.90" x2="302.60" y2="344.90" stroke="#111" stroke-width="1.8" />
<text x="294.00" y="348.80" font-size="11.5" font-weight="bold" font-style="normal" text-anchor="end" fill="#222" stroke="#222" stroke-width="0.35" >2000</text>
<line x1="295.80" y1="397.70" x2="302.60" y2="397.70" stroke="#111" stroke-width="1.8" />
<text x="294.00" y="401.60" font-size="11.5" font-weight="bold" font-style="normal" text-anchor="end" fill="#222" stroke="#222" stroke-width="0.35" >1000</text>
<line x1="295.80" y1="450.50" x2="302.60" y2="450.50" stroke="#111" stroke-width="1.8" />
<text x="294.00" y="454.40" font-size="11.5" font-weight="bold" font-style="normal" text-anchor="end" fill="#222" stroke="#222" stroke-width="0.35" >0</text>
<line x1="301.70" y1="450.50" x2="461.50" y2="450.50" stroke="#111" stroke-width="1.9" />
<line x1="334.30" y1="450.50" x2="334.30" y2="457.00" stroke="#111" stroke-width="1.8" />
<text x="336.10" y="468.70" font-size="11.7" font-weight="bold" font-style="normal" text-anchor="middle" fill="#222" stroke="#222" stroke-width="0.35" >ln25</text>
<line x1="381.80" y1="450.50" x2="381.80" y2="457.00" stroke="#111" stroke-width="1.8" />
<text x="381.80" y="468.70" font-size="11.7" font-weight="bold" font-style="normal" text-anchor="middle" fill="#222" stroke="#222" stroke-width="0.35" >ob35</text>
<line x1="429.20" y1="450.50" x2="429.20" y2="457.00" stroke="#111" stroke-width="1.8" />
<text x="429.20" y="468.70" font-size="11.7" font-weight="bold" font-style="normal" text-anchor="middle" fill="#222" stroke="#222" stroke-width="0.35" >ob40</text>
<text transform="translate(264.55,372.05) rotate(-90)" font-size="12" font-weight="bold" text-anchor="middle" fill="#222" stroke="#222" stroke-width="0.35">fpkm truncated</text>
<text x="307.90" y="301.60" font-size="11.5" font-weight="bold" font-style="normal" text-anchor="start" fill="#1a1a1a" stroke="#1a1a1a" stroke-width="0.35" >ASCsub</text>
<text x="307.90" y="315.60" font-size="11.5" font-weight="normal" font-style="italic" text-anchor="start" fill="#333"  stroke="#333" stroke-width="0.2">FN1</text>
<path d="M323.90,390.30 L344.70,390.30 Q346.50,390.30 345.70,392.10 C345.63,392.25 345.95,392.27 345.30,393.00 C344.65,393.73 342.97,395.42 341.80,396.50 C340.63,397.58 339.08,398.67 338.30,399.50 C337.52,400.33 337.10,400.83 337.10,401.50 C337.10,402.17 337.43,402.67 338.30,403.50 C339.17,404.33 340.80,405.28 342.30,406.50 C343.80,407.72 346.23,409.30 347.30,410.80 C348.37,412.30 348.43,414.22 348.70,415.50 C348.97,416.78 348.87,417.98 348.90,418.50 C348.93,419.02 348.88,418.60 348.87,418.62 Q348.60,419.70 347.52,419.70 L321.08,419.70 Q320.00,419.70 319.73,418.62 C319.73,418.60 319.67,419.02 319.70,418.50 C319.73,417.98 319.63,416.78 319.90,415.50 C320.17,414.22 320.23,412.30 321.30,410.80 C322.37,409.30 324.80,407.72 326.30,406.50 C327.80,405.28 329.43,404.33 330.30,403.50 C331.17,402.67 331.50,402.17 331.50,401.50 C331.50,400.83 331.08,400.33 330.30,399.50 C329.52,398.67 327.97,397.58 326.80,396.50 C325.63,395.42 323.95,393.73 323.30,393.00 C322.65,392.27 322.97,392.25 322.90,392.10 Q322.10,390.30 323.90,390.30 Z" fill="none" stroke="#000" stroke-width="1.7" stroke-linejoin="round"/>
<path d="M376.10,363.60 L387.50,363.60 Q389.30,363.60 389.46,365.40 C389.50,365.83 389.49,366.67 389.70,368.00 C389.91,369.33 390.27,371.73 390.70,373.40 C391.13,375.07 391.63,376.43 392.30,378.00 C392.97,379.57 394.02,381.30 394.70,382.80 C395.38,384.30 396.02,385.83 396.40,387.00 C396.78,388.17 397.02,388.97 397.00,389.80 C396.98,390.63 396.44,391.61 396.30,392.00 C396.16,392.39 396.18,392.11 396.15,392.13 Q394.80,393.30 393.63,393.30 L369.97,393.30 Q368.80,393.30 367.45,392.13 C367.43,392.11 367.44,392.39 367.30,392.00 C367.16,391.61 366.62,390.63 366.60,389.80 C366.58,388.97 366.82,388.17 367.20,387.00 C367.58,385.83 368.22,384.30 368.90,382.80 C369.58,381.30 370.63,379.57 371.30,378.00 C371.97,376.43 372.47,375.07 372.90,373.40 C373.33,371.73 373.69,369.33 373.90,368.00 C374.11,366.67 374.10,365.83 374.14,365.40 Q374.30,363.60 376.10,363.60 Z" fill="none" stroke="#5a5a5a" stroke-width="1.5" stroke-linejoin="round"/>
<path d="M417.90,320.90 L440.50,320.90 Q442.30,320.90 442.21,322.70 C442.18,323.42 442.22,325.17 442.00,327.00 C441.78,328.83 441.45,331.53 440.90,333.70 C440.35,335.87 439.37,337.67 438.70,340.00 C438.03,342.33 437.03,345.53 436.90,347.70 C436.77,349.87 437.32,351.05 437.90,353.00 C438.48,354.95 439.60,357.23 440.40,359.40 C441.20,361.57 442.12,363.67 442.70,366.00 C443.28,368.33 443.90,371.40 443.90,373.40 C443.90,375.40 443.40,376.43 442.70,378.00 C442.00,379.57 440.48,381.30 439.70,382.80 C438.92,384.30 438.38,385.45 438.00,387.00 C437.62,388.55 437.52,389.93 437.40,392.10 C437.28,394.27 437.32,397.48 437.30,400.00 C437.28,402.52 437.30,406.00 437.30,407.20 Q437.30,409.00 435.50,409.00 L422.90,409.00 Q421.10,409.00 421.10,407.20 C421.10,406.00 421.12,402.52 421.10,400.00 C421.08,397.48 421.12,394.27 421.00,392.10 C420.88,389.93 420.78,388.55 420.40,387.00 C420.02,385.45 419.48,384.30 418.70,382.80 C417.92,381.30 416.40,379.57 415.70,378.00 C415.00,376.43 414.50,375.40 414.50,373.40 C414.50,371.40 415.12,368.33 415.70,366.00 C416.28,363.67 417.20,361.57 418.00,359.40 C418.80,357.23 419.92,354.95 420.50,353.00 C421.08,351.05 421.63,349.87 421.50,347.70 C421.37,345.53 420.37,342.33 419.70,340.00 C419.03,337.67 418.05,335.87 417.50,333.70 C416.95,331.53 416.62,328.83 416.40,327.00 C416.18,325.17 416.22,323.42 416.19,322.70 Q416.10,320.90 417.90,320.90 Z" fill="none" stroke="#a3a3a3" stroke-width="1.5" stroke-linejoin="round"/>
<line x1="330.30" y1="391.00" x2="338.30" y2="391.00" stroke="#ff0000" stroke-width="2.35" stroke-dasharray="1.6 0.5"/>
<line x1="322.70" y1="410.80" x2="345.90" y2="410.80" stroke="#ff0000" stroke-width="2.35" stroke-dasharray="1.6 0.5"/>
<line x1="321.30" y1="418.00" x2="347.30" y2="418.00" stroke="#ff0000" stroke-width="2.35" stroke-dasharray="1.6 0.5"/>
<line x1="375.30" y1="369.50" x2="388.30" y2="369.50" stroke="#ff0000" stroke-width="2.35" stroke-dasharray="1.6 0.5"/>
<line x1="369.80" y1="384.60" x2="393.80" y2="384.60" stroke="#ff0000" stroke-width="2.35" stroke-dasharray="1.6 0.5"/>
<line x1="368.80" y1="391.70" x2="394.80" y2="391.70" stroke="#ff0000" stroke-width="2.35" stroke-dasharray="1.6 0.5"/>
<line x1="417.75" y1="326.00" x2="440.65" y2="326.00" stroke="#ff0000" stroke-width="2.35" stroke-dasharray="1.6 0.5"/>
<line x1="416.53" y1="369.50" x2="441.87" y2="369.50" stroke="#ff0000" stroke-width="2.35" stroke-dasharray="1.6 0.5"/>
<line x1="422.27" y1="391.00" x2="436.13" y2="391.00" stroke="#ff0000" stroke-width="2.35" stroke-dasharray="1.6 0.5"/>
<circle cx="327.60" cy="389.80" r="3.6" fill="#000"/>
<circle cx="340.40" cy="390.50" r="3.6" fill="#000"/>
<circle cx="334.30" cy="410.30" r="3.6" fill="#000"/>
<circle cx="327.60" cy="419.70" r="3.6" fill="#000"/>
<circle cx="340.40" cy="417.40" r="3.6" fill="#000"/>
<rect x="378.20" y="359.60" width="7.2" height="7.2" rx="0.6" fill="#5a5a5a"/>
<rect x="378.20" y="371.70" width="7.2" height="7.2" rx="0.6" fill="#5a5a5a"/>
<rect x="378.20" y="380.40" width="7.2" height="7.2" rx="0.6" fill="#5a5a5a"/>
<rect x="371.60" y="389.00" width="7.2" height="7.2" rx="0.6" fill="#5a5a5a"/>
<rect x="384.50" y="389.00" width="7.2" height="7.2" rx="0.6" fill="#5a5a5a"/>
<path d="M429.20,316.35 L433.10,323.65 L425.30,323.65 Z" fill="#a3a3a3" stroke="#a3a3a3" stroke-width="0.6" stroke-linejoin="round"/>
<path d="M429.20,328.05 L433.10,335.35 L425.30,335.35 Z" fill="#a3a3a3" stroke="#a3a3a3" stroke-width="0.6" stroke-linejoin="round"/>
<path d="M422.60,366.15 L426.50,373.45 L418.70,373.45 Z" fill="#a3a3a3" stroke="#a3a3a3" stroke-width="0.6" stroke-linejoin="round"/>
<path d="M435.50,369.55 L439.40,376.85 L431.60,376.85 Z" fill="#a3a3a3" stroke="#a3a3a3" stroke-width="0.6" stroke-linejoin="round"/>
<path d="M429.20,405.75 L433.10,413.05 L425.30,413.05 Z" fill="#a3a3a3" stroke="#a3a3a3" stroke-width="0.6" stroke-linejoin="round"/>
<line x1="523.20" y1="292.20" x2="523.20" y2="451.40" stroke="#111" stroke-width="1.9" />
<line x1="516.40" y1="293.10" x2="523.20" y2="293.10" stroke="#111" stroke-width="1.8" />
<text x="514.60" y="297.00" font-size="11.5" font-weight="bold" font-style="normal" text-anchor="end" fill="#222" stroke="#222" stroke-width="0.35" >8</text>
<line x1="516.40" y1="332.40" x2="523.20" y2="332.40" stroke="#111" stroke-width="1.8" />
<text x="514.60" y="336.30" font-size="11.5" font-weight="bold" font-style="normal" text-anchor="end" fill="#222" stroke="#222" stroke-width="0.35" >6</text>
<line x1="516.40" y1="371.80" x2="523.20" y2="371.80" stroke="#111" stroke-width="1.8" />
<text x="514.60" y="375.70" font-size="11.5" font-weight="bold" font-style="normal" text-anchor="end" fill="#222" stroke="#222" stroke-width="0.35" >4</text>
<line x1="516.40" y1="411.10" x2="523.20" y2="411.10" stroke="#111" stroke-width="1.8" />
<text x="514.60" y="415.00" font-size="11.5" font-weight="bold" font-style="normal" text-anchor="end" fill="#222" stroke="#222" stroke-width="0.35" >2</text>
<line x1="516.40" y1="450.50" x2="523.20" y2="450.50" stroke="#111" stroke-width="1.8" />
<text x="514.60" y="454.40" font-size="11.5" font-weight="bold" font-style="normal" text-anchor="end" fill="#222" stroke="#222" stroke-width="0.35" >0</text>
<line x1="522.30" y1="450.50" x2="685.00" y2="450.50" stroke="#111" stroke-width="1.9" />
<line x1="554.80" y1="450.50" x2="554.80" y2="457.00" stroke="#111" stroke-width="1.8" />
<text x="556.60" y="468.70" font-size="11.7" font-weight="bold" font-style="normal" text-anchor="middle" fill="#222" stroke="#222" stroke-width="0.35" >ln25</text>
<line x1="602.40" y1="450.50" x2="602.40" y2="457.00" stroke="#111" stroke-width="1.8" />
<text x="602.40" y="468.70" font-size="11.7" font-weight="bold" font-style="normal" text-anchor="middle" fill="#222" stroke="#222" stroke-width="0.35" >ob35</text>
<line x1="649.80" y1="450.50" x2="649.80" y2="457.00" stroke="#111" stroke-width="1.8" />
<text x="649.80" y="468.70" font-size="11.7" font-weight="bold" font-style="normal" text-anchor="middle" fill="#222" stroke="#222" stroke-width="0.35" >ob40</text>
<text transform="translate(502.75,368.00) rotate(-90)" font-size="12" font-weight="bold" text-anchor="middle" fill="#222" stroke="#222" stroke-width="0.35">fpkm truncated</text>
<text x="684.30" y="301.60" font-size="11.5" font-weight="bold" font-style="normal" text-anchor="end" fill="#1a1a1a" stroke="#1a1a1a" stroke-width="0.35" >ASCsub</text>
<text x="684.30" y="315.60" font-size="11.5" font-weight="normal" font-style="italic" text-anchor="end" fill="#333"  stroke="#333" stroke-width="0.2">LRP12</text>
<path d="M551.62,372.70 L557.98,372.70 Q559.60,372.70 558.88,374.32 C558.87,374.35 558.98,374.19 558.80,374.50 C558.62,374.81 557.80,375.53 557.80,376.20 C557.80,376.87 558.22,377.62 558.80,378.50 C559.38,379.38 560.43,380.42 561.30,381.50 C562.17,382.58 563.17,383.83 564.00,385.00 C564.83,386.17 565.70,387.33 566.30,388.50 C566.90,389.67 567.38,391.30 567.60,392.00 C567.82,392.70 567.60,392.58 567.60,392.70 Q567.60,394.50 565.80,394.50 L543.80,394.50 Q542.00,394.50 542.00,392.70 C542.00,392.58 541.78,392.70 542.00,392.00 C542.22,391.30 542.70,389.67 543.30,388.50 C543.90,387.33 544.77,386.17 545.60,385.00 C546.43,383.83 547.43,382.58 548.30,381.50 C549.17,380.42 550.22,379.38 550.80,378.50 C551.38,377.62 551.80,376.87 551.80,376.20 C551.80,375.53 550.98,374.81 550.80,374.50 C550.62,374.19 550.73,374.35 550.72,374.32 Q550.00,372.70 551.62,372.70 Z" fill="none" stroke="#000" stroke-width="1.7" stroke-linejoin="round"/>
<path d="M591.00,333.30 L613.80,333.30 Q615.60,333.30 616.27,335.10 C616.32,335.25 616.46,335.02 616.60,336.00 C616.74,336.98 617.02,339.05 617.10,341.00 C617.18,342.95 617.25,345.53 617.10,347.70 C616.95,349.87 616.65,351.95 616.20,354.00 C615.75,356.05 615.12,358.00 614.40,360.00 C613.68,362.00 612.62,364.17 611.90,366.00 C611.18,367.83 610.52,369.33 610.10,371.00 C609.68,372.67 609.58,374.17 609.40,376.00 C609.22,377.83 609.08,380.08 609.00,382.00 C608.92,383.92 608.94,386.58 608.92,387.50 Q608.90,389.30 607.10,389.30 L597.70,389.30 Q595.90,389.30 595.88,387.50 C595.86,386.58 595.88,383.92 595.80,382.00 C595.72,380.08 595.58,377.83 595.40,376.00 C595.22,374.17 595.12,372.67 594.70,371.00 C594.28,369.33 593.62,367.83 592.90,366.00 C592.18,364.17 591.12,362.00 590.40,360.00 C589.68,358.00 589.05,356.05 588.60,354.00 C588.15,351.95 587.85,349.87 587.70,347.70 C587.55,345.53 587.62,342.95 587.70,341.00 C587.78,339.05 588.06,336.98 588.20,336.00 C588.34,335.02 588.48,335.25 588.53,335.10 Q589.20,333.30 591.00,333.30 Z" fill="none" stroke="#6a6a6a" stroke-width="1.2" stroke-linejoin="round"/>
<path d="M636.60,347.30 L663.00,347.30 Q664.80,347.30 663.98,349.10 C663.95,349.17 664.41,348.93 663.80,349.50 C663.19,350.07 661.55,351.42 660.30,352.50 C659.05,353.58 657.45,354.83 656.30,356.00 C655.15,357.17 653.98,358.33 653.40,359.50 C652.82,360.67 652.73,361.83 652.80,363.00 C652.87,364.17 653.38,365.33 653.80,366.50 C654.22,367.67 654.83,368.75 655.30,370.00 C655.77,371.25 656.32,372.67 656.60,374.00 C656.88,375.33 656.93,377.13 657.00,378.00 C657.07,378.87 657.00,379.00 657.00,379.20 Q657.00,381.00 655.20,381.00 L644.40,381.00 Q642.60,381.00 642.60,379.20 C642.60,379.00 642.53,378.87 642.60,378.00 C642.67,377.13 642.72,375.33 643.00,374.00 C643.28,372.67 643.83,371.25 644.30,370.00 C644.77,368.75 645.38,367.67 645.80,366.50 C646.22,365.33 646.73,364.17 646.80,363.00 C646.87,361.83 646.78,360.67 646.20,359.50 C645.62,358.33 644.45,357.17 643.30,356.00 C642.15,354.83 640.55,353.58 639.30,352.50 C638.05,351.42 636.41,350.07 635.80,349.50 C635.19,348.93 635.65,349.17 635.62,349.10 Q634.80,347.30 636.60,347.30 Z" fill="none" stroke="#a3a3a3" stroke-width="1.5" stroke-linejoin="round"/>
<line x1="552.12" y1="378.60" x2="557.48" y2="378.60" stroke="#ff0000" stroke-width="2.35" stroke-dasharray="1.6 0.5"/>
<line x1="544.40" y1="389.30" x2="565.20" y2="389.30" stroke="#ff0000" stroke-width="2.35" stroke-dasharray="1.6 0.5"/>
<line x1="543.80" y1="394.00" x2="565.80" y2="394.00" stroke="#ff0000" stroke-width="2.35" stroke-dasharray="1.6 0.5"/>
<line x1="589.40" y1="338.90" x2="615.40" y2="338.90" stroke="#ff0000" stroke-width="2.35" stroke-dasharray="1.6 0.5"/>
<line x1="590.57" y1="355.90" x2="614.23" y2="355.90" stroke="#ff0000" stroke-width="2.35" stroke-dasharray="1.6 0.5"/>
<line x1="596.99" y1="378.80" x2="607.81" y2="378.80" stroke="#ff0000" stroke-width="2.35" stroke-dasharray="1.6 0.5"/>
<line x1="637.80" y1="347.70" x2="661.80" y2="347.70" stroke="#ff0000" stroke-width="2.35" stroke-dasharray="1.6 0.5"/>
<line x1="644.80" y1="376.20" x2="654.80" y2="376.20" stroke="#ff0000" stroke-width="2.35" stroke-dasharray="1.6 0.5"/>
<circle cx="554.80" cy="372.70" r="3.6" fill="#000"/>
<circle cx="554.80" cy="389.10" r="3.6" fill="#000"/>
<circle cx="567.60" cy="384.40" r="3.6" fill="#000"/>
<circle cx="542.40" cy="395.20" r="3.6" fill="#000"/>
<circle cx="567.60" cy="393.50" r="3.6" fill="#000"/>
<rect x="598.80" y="329.70" width="7.2" height="7.2" rx="0.6" fill="#5a5a5a"/>
<rect x="598.80" y="340.60" width="7.2" height="7.2" rx="0.6" fill="#5a5a5a"/>
<rect x="598.80" y="352.30" width="7.2" height="7.2" rx="0.6" fill="#5a5a5a"/>
<rect x="598.80" y="364.00" width="7.2" height="7.2" rx="0.6" fill="#5a5a5a"/>
<rect x="598.80" y="386.20" width="7.2" height="7.2" rx="0.6" fill="#5a5a5a"/>
<path d="M637.00,343.85 L640.90,351.15 L633.10,351.15 Z" fill="#a3a3a3" stroke="#a3a3a3" stroke-width="0.6" stroke-linejoin="round"/>
<path d="M649.80,342.75 L653.70,350.05 L645.90,350.05 Z" fill="#a3a3a3" stroke="#a3a3a3" stroke-width="0.6" stroke-linejoin="round"/>
<path d="M662.70,345.05 L666.60,352.35 L658.80,352.35 Z" fill="#a3a3a3" stroke="#a3a3a3" stroke-width="0.6" stroke-linejoin="round"/>
<path d="M649.80,366.75 L653.70,374.05 L645.90,374.05 Z" fill="#a3a3a3" stroke="#a3a3a3" stroke-width="0.6" stroke-linejoin="round"/>
<path d="M649.80,377.75 L653.70,385.05 L645.90,385.05 Z" fill="#a3a3a3" stroke="#a3a3a3" stroke-width="0.6" stroke-linejoin="round"/>
<text x="0.00" y="512.30" font-size="23.6" font-weight="bold" font-style="normal" text-anchor="start" fill="#000" stroke="#000" stroke-width="0.1" >D</text>
<line x1="64.60" y1="509.00" x2="64.60" y2="668.20" stroke="#111" stroke-width="1.9" />
<line x1="57.80" y1="509.90" x2="64.60" y2="509.90" stroke="#111" stroke-width="1.8" />
<text x="56.00" y="513.80" font-size="11.5" font-weight="bold" font-style="normal" text-anchor="end" fill="#222" stroke="#222" stroke-width="0.35" >150</text>
<line x1="57.80" y1="562.40" x2="64.60" y2="562.40" stroke="#111" stroke-width="1.8" />
<text x="56.00" y="566.30" font-size="11.5" font-weight="bold" font-style="normal" text-anchor="end" fill="#222" stroke="#222" stroke-width="0.35" >100</text>
<line x1="57.80" y1="614.90" x2="64.60" y2="614.90" stroke="#111" stroke-width="1.8" />
<text x="56.00" y="618.80" font-size="11.5" font-weight="bold" font-style="normal" text-anchor="end" fill="#222" stroke="#222" stroke-width="0.35" >50</text>
<line x1="57.80" y1="667.30" x2="64.60" y2="667.30" stroke="#111" stroke-width="1.8" />
<text x="56.00" y="671.20" font-size="11.5" font-weight="bold" font-style="normal" text-anchor="end" fill="#222" stroke="#222" stroke-width="0.35" >0</text>
<line x1="63.70" y1="667.30" x2="223.30" y2="667.30" stroke="#111" stroke-width="1.9" />
<line x1="96.40" y1="667.30" x2="96.40" y2="673.80" stroke="#111" stroke-width="1.8" />
<text x="97.40" y="686.70" font-size="11.7" font-weight="bold" font-style="normal" text-anchor="middle" fill="#222" stroke="#222" stroke-width="0.35" >ln25</text>
<line x1="143.10" y1="667.30" x2="143.10" y2="673.80" stroke="#111" stroke-width="1.8" />
<text x="144.10" y="686.70" font-size="11.7" font-weight="bold" font-style="normal" text-anchor="middle" fill="#222" stroke="#222" stroke-width="0.35" >ob35</text>
<line x1="190.80" y1="667.30" x2="190.80" y2="673.80" stroke="#111" stroke-width="1.8" />
<text x="191.80" y="686.70" font-size="11.7" font-weight="bold" font-style="normal" text-anchor="middle" fill="#222" stroke="#222" stroke-width="0.35" >ob40</text>
<text transform="translate(32.50,585.70) rotate(-90)" font-size="12" font-weight="bold" text-anchor="middle" fill="#222" stroke="#222" stroke-width="0.35">fpkm truncated</text>
<text x="222.30" y="518.90" font-size="12" font-weight="bold" font-style="normal" text-anchor="end" fill="#1a1a1a" stroke="#1a1a1a" stroke-width="0.35" >ASCsub</text>
<text x="222.30" y="532.90" font-size="11.5" font-weight="normal" font-style="italic" text-anchor="end" fill="#333"  stroke="#333" stroke-width="0.2">CXCL12</text>
<path d="M92.90,534.70 L99.90,534.70 Q101.70,534.70 101.65,536.50 C101.64,536.75 101.71,537.08 101.60,538.00 C101.49,538.92 101.28,540.67 101.00,542.00 C100.72,543.33 100.30,544.67 99.90,546.00 C99.50,547.33 99.00,548.50 98.60,550.00 C98.20,551.50 97.73,553.33 97.50,555.00 C97.27,556.67 97.23,558.17 97.20,560.00 C97.17,561.83 97.18,564.17 97.30,566.00 C97.42,567.83 97.58,569.17 97.90,571.00 C98.22,572.83 98.58,574.83 99.20,577.00 C99.82,579.17 100.70,581.67 101.60,584.00 C102.50,586.33 103.67,588.67 104.60,591.00 C105.53,593.33 106.43,595.67 107.20,598.00 C107.97,600.33 108.62,602.67 109.20,605.00 C109.78,607.33 110.33,609.50 110.70,612.00 C111.07,614.50 111.37,617.50 111.40,620.00 C111.43,622.50 111.23,624.67 110.90,627.00 C110.57,629.33 109.93,631.67 109.40,634.00 C108.87,636.33 108.20,638.83 107.70,641.00 C107.20,643.17 106.69,645.48 106.40,647.00 C106.11,648.52 106.03,649.58 105.96,650.10 Q105.70,651.90 103.90,651.90 L88.90,651.90 Q87.10,651.90 86.84,650.10 C86.77,649.58 86.69,648.52 86.40,647.00 C86.11,645.48 85.60,643.17 85.10,641.00 C84.60,638.83 83.93,636.33 83.40,634.00 C82.87,631.67 82.23,629.33 81.90,627.00 C81.57,624.67 81.37,622.50 81.40,620.00 C81.43,617.50 81.73,614.50 82.10,612.00 C82.47,609.50 83.02,607.33 83.60,605.00 C84.18,602.67 84.83,600.33 85.60,598.00 C86.37,595.67 87.27,593.33 88.20,591.00 C89.13,588.67 90.30,586.33 91.20,584.00 C92.10,581.67 92.98,579.17 93.60,577.00 C94.22,574.83 94.58,572.83 94.90,571.00 C95.22,569.17 95.38,567.83 95.50,566.00 C95.62,564.17 95.63,561.83 95.60,560.00 C95.57,558.17 95.53,556.67 95.30,555.00 C95.07,553.33 94.60,551.50 94.20,550.00 C93.80,548.50 93.30,547.33 92.90,546.00 C92.50,544.67 92.08,543.33 91.80,542.00 C91.52,540.67 91.31,538.92 91.20,538.00 C91.09,537.08 91.16,536.75 91.15,536.50 Q91.10,534.70 92.90,534.70 Z" fill="none" stroke="#000" stroke-width="1.7" stroke-linejoin="round"/>
<path d="M140.63,609.20 L145.57,609.20 Q146.90,609.20 146.71,610.53 C146.67,610.78 146.74,611.25 146.50,612.00 C146.26,612.75 145.70,614.00 145.30,615.00 C144.90,616.00 144.35,616.83 144.10,618.00 C143.85,619.17 143.83,620.33 143.80,622.00 C143.77,623.67 143.85,626.00 143.90,628.00 C143.95,630.00 143.97,632.33 144.10,634.00 C144.23,635.67 144.37,636.67 144.70,638.00 C145.03,639.33 145.37,640.67 146.10,642.00 C146.83,643.33 148.02,644.67 149.10,646.00 C150.18,647.33 151.43,648.67 152.60,650.00 C153.77,651.33 155.22,652.75 156.10,654.00 C156.98,655.25 157.55,656.72 157.90,657.50 C158.25,658.28 158.13,658.50 158.18,658.70 Q158.60,660.50 156.80,660.50 L129.40,660.50 Q127.60,660.50 128.02,658.70 C128.07,658.50 127.95,658.28 128.30,657.50 C128.65,656.72 129.22,655.25 130.10,654.00 C130.98,652.75 132.43,651.33 133.60,650.00 C134.77,648.67 136.02,647.33 137.10,646.00 C138.18,644.67 139.37,643.33 140.10,642.00 C140.83,640.67 141.17,639.33 141.50,638.00 C141.83,636.67 141.97,635.67 142.10,634.00 C142.23,632.33 142.25,630.00 142.30,628.00 C142.35,626.00 142.43,623.67 142.40,622.00 C142.37,620.33 142.35,619.17 142.10,618.00 C141.85,616.83 141.30,616.00 140.90,615.00 C140.50,614.00 139.94,612.75 139.70,612.00 C139.46,611.25 139.53,610.78 139.49,610.53 Q139.30,609.20 140.63,609.20 Z" fill="none" stroke="#5a5a5a" stroke-width="1.5" stroke-linejoin="round"/>
<path d="M188.40,636.00 L193.21,636.00 Q194.50,636.00 193.72,637.29 C193.70,637.33 193.67,637.22 193.60,637.50 C193.53,637.78 192.93,638.42 193.30,639.00 C193.67,639.58 194.55,640.33 195.80,641.00 C197.05,641.67 199.30,642.33 200.80,643.00 C202.30,643.67 204.11,644.64 204.80,645.00 C205.49,645.36 204.92,645.12 204.95,645.14 Q206.30,646.40 205.04,646.40 L176.56,646.40 Q175.30,646.40 176.65,645.14 C176.68,645.12 176.11,645.36 176.80,645.00 C177.49,644.64 179.30,643.67 180.80,643.00 C182.30,642.33 184.55,641.67 185.80,641.00 C187.05,640.33 187.93,639.58 188.30,639.00 C188.67,638.42 188.07,637.78 188.00,637.50 C187.93,637.22 187.90,637.33 187.88,637.29 Q187.10,636.00 188.40,636.00 Z" fill="none" stroke="#a3a3a3" stroke-width="1.5" stroke-linejoin="round"/>
<line x1="95.60" y1="571.20" x2="97.20" y2="571.20" stroke="#ff0000" stroke-width="2.35" stroke-dasharray="1.6 0.5"/>
<line x1="82.98" y1="617.90" x2="109.82" y2="617.90" stroke="#ff0000" stroke-width="2.35" stroke-dasharray="1.6 0.5"/>
<line x1="86.40" y1="640.20" x2="106.40" y2="640.20" stroke="#ff0000" stroke-width="2.35" stroke-dasharray="1.6 0.5"/>
<line x1="135.10" y1="657.60" x2="151.10" y2="657.60" stroke="#ff0000" stroke-width="2.35" stroke-dasharray="1.6 0.5"/>
<line x1="189.60" y1="638.50" x2="192.00" y2="638.50" stroke="#ff0000" stroke-width="2.35" stroke-dasharray="1.6 0.5"/>
<line x1="182.80" y1="643.50" x2="198.80" y2="643.50" stroke="#ff0000" stroke-width="2.35" stroke-dasharray="1.6 0.5"/>
<circle cx="96.40" cy="534.70" r="3.6" fill="#000"/>
<circle cx="96.40" cy="608.50" r="3.6" fill="#000"/>
<circle cx="96.40" cy="617.90" r="3.6" fill="#000"/>
<circle cx="96.40" cy="628.30" r="3.6" fill="#000"/>
<circle cx="96.40" cy="651.90" r="3.6" fill="#000"/>
<rect x="140.00" y="608.10" width="7.2" height="7.2" rx="0.6" fill="#5a5a5a"/>
<rect x="127.10" y="656.50" width="7.2" height="7.2" rx="0.6" fill="#5a5a5a"/>
<rect x="135.80" y="653.30" width="7.2" height="7.2" rx="0.6" fill="#5a5a5a"/>
<rect x="144.50" y="654.50" width="7.2" height="7.2" rx="0.6" fill="#5a5a5a"/>
<rect x="152.70" y="654.00" width="7.2" height="7.2" rx="0.6" fill="#5a5a5a"/>
<path d="M177.90,632.15 L181.80,639.45 L174.00,639.45 Z" fill="#a3a3a3" stroke="#a3a3a3" stroke-width="0.6" stroke-linejoin="round"/>
<path d="M190.80,635.15 L194.70,642.45 L186.90,642.45 Z" fill="#a3a3a3" stroke="#a3a3a3" stroke-width="0.6" stroke-linejoin="round"/>
<path d="M180.30,639.65 L184.20,646.95 L176.40,646.95 Z" fill="#a3a3a3" stroke="#a3a3a3" stroke-width="0.6" stroke-linejoin="round"/>
<path d="M195.20,640.85 L199.10,648.15 L191.30,648.15 Z" fill="#a3a3a3" stroke="#a3a3a3" stroke-width="0.6" stroke-linejoin="round"/>
<path d="M203.40,639.65 L207.30,646.95 L199.50,646.95 Z" fill="#a3a3a3" stroke="#a3a3a3" stroke-width="0.6" stroke-linejoin="round"/>
<line x1="302.00" y1="509.00" x2="302.00" y2="668.20" stroke="#111" stroke-width="1.9" />
<line x1="295.20" y1="509.90" x2="302.00" y2="509.90" stroke="#111" stroke-width="1.8" />
<text x="293.40" y="513.80" font-size="11.5" font-weight="bold" font-style="normal" text-anchor="end" fill="#222" stroke="#222" stroke-width="0.35" >150</text>
<line x1="295.20" y1="562.40" x2="302.00" y2="562.40" stroke="#111" stroke-width="1.8" />
<text x="293.40" y="566.30" font-size="11.5" font-weight="bold" font-style="normal" text-anchor="end" fill="#222" stroke="#222" stroke-width="0.35" >100</text>
<line x1="295.20" y1="614.90" x2="302.00" y2="614.90" stroke="#111" stroke-width="1.8" />
<text x="293.40" y="618.80" font-size="11.5" font-weight="bold" font-style="normal" text-anchor="end" fill="#222" stroke="#222" stroke-width="0.35" >50</text>
<line x1="295.20" y1="667.30" x2="302.00" y2="667.30" stroke="#111" stroke-width="1.8" />
<text x="293.40" y="671.20" font-size="11.5" font-weight="bold" font-style="normal" text-anchor="end" fill="#222" stroke="#222" stroke-width="0.35" >0</text>
<line x1="301.10" y1="667.30" x2="461.50" y2="667.30" stroke="#111" stroke-width="1.9" />
<line x1="333.50" y1="667.30" x2="333.50" y2="673.80" stroke="#111" stroke-width="1.8" />
<text x="334.50" y="686.70" font-size="11.7" font-weight="bold" font-style="normal" text-anchor="middle" fill="#222" stroke="#222" stroke-width="0.35" >ln25</text>
<line x1="380.60" y1="667.30" x2="380.60" y2="673.80" stroke="#111" stroke-width="1.8" />
<text x="381.60" y="686.70" font-size="11.7" font-weight="bold" font-style="normal" text-anchor="middle" fill="#222" stroke="#222" stroke-width="0.35" >ob35</text>
<line x1="428.30" y1="667.30" x2="428.30" y2="673.80" stroke="#111" stroke-width="1.8" />
<text x="429.30" y="686.70" font-size="11.7" font-weight="bold" font-style="normal" text-anchor="middle" fill="#222" stroke="#222" stroke-width="0.35" >ob40</text>
<text transform="translate(266.65,588.85) rotate(-90)" font-size="12" font-weight="bold" text-anchor="middle" fill="#222" stroke="#222" stroke-width="0.35">fpkm truncated</text>
<text x="460.20" y="518.90" font-size="12" font-weight="bold" font-style="normal" text-anchor="end" fill="#1a1a1a" stroke="#1a1a1a" stroke-width="0.35" >ASCsub</text>
<text x="460.20" y="532.80" font-size="11.7" font-weight="normal" font-style="italic" text-anchor="end" fill="#333"  stroke="#333" stroke-width="0.2">IFITM1</text>
<path d="M324.10,535.50 L342.90,535.50 Q344.70,535.50 344.94,537.30 C345.00,537.75 345.07,538.72 345.30,540.00 C345.53,541.28 345.95,543.17 346.30,545.00 C346.65,546.83 347.10,549.00 347.40,551.00 C347.70,553.00 347.93,554.75 348.10,557.00 C348.27,559.25 348.42,562.33 348.40,564.50 C348.38,566.67 348.32,568.08 348.00,570.00 C347.68,571.92 347.08,574.00 346.50,576.00 C345.92,578.00 345.17,580.00 344.50,582.00 C343.83,584.00 343.03,586.17 342.50,588.00 C341.97,589.83 341.57,591.33 341.30,593.00 C341.03,594.67 340.87,596.33 340.90,598.00 C340.93,599.67 341.07,601.33 341.50,603.00 C341.93,604.67 342.78,606.33 343.50,608.00 C344.22,609.67 345.12,611.17 345.80,613.00 C346.48,614.83 347.35,617.17 347.60,619.00 C347.85,620.83 347.48,622.50 347.30,624.00 C347.12,625.50 346.71,627.05 346.50,628.00 C346.29,628.95 346.10,629.42 346.01,629.70 Q345.50,631.50 343.70,631.50 L323.30,631.50 Q321.50,631.50 320.99,629.70 C320.90,629.42 320.71,628.95 320.50,628.00 C320.29,627.05 319.88,625.50 319.70,624.00 C319.52,622.50 319.15,620.83 319.40,619.00 C319.65,617.17 320.52,614.83 321.20,613.00 C321.88,611.17 322.78,609.67 323.50,608.00 C324.22,606.33 325.07,604.67 325.50,603.00 C325.93,601.33 326.07,599.67 326.10,598.00 C326.13,596.33 325.97,594.67 325.70,593.00 C325.43,591.33 325.03,589.83 324.50,588.00 C323.97,586.17 323.17,584.00 322.50,582.00 C321.83,580.00 321.08,578.00 320.50,576.00 C319.92,574.00 319.32,571.92 319.00,570.00 C318.68,568.08 318.62,566.67 318.60,564.50 C318.58,562.33 318.73,559.25 318.90,557.00 C319.07,554.75 319.30,553.00 319.60,551.00 C319.90,549.00 320.35,546.83 320.70,545.00 C321.05,543.17 321.47,541.28 321.70,540.00 C321.93,538.72 322.00,537.75 322.06,537.30 Q322.30,535.50 324.10,535.50 Z" fill="none" stroke="#000" stroke-width="1.7" stroke-linejoin="round"/>
<path d="M378.13,578.00 L383.07,578.00 Q384.40,578.00 384.58,579.33 C384.61,579.61 384.88,580.06 384.80,581.00 C384.72,581.94 384.47,583.67 384.10,585.00 C383.73,586.33 383.05,587.67 382.60,589.00 C382.15,590.33 381.63,591.50 381.40,593.00 C381.17,594.50 381.20,595.83 381.20,598.00 C381.20,600.17 381.30,603.50 381.40,606.00 C381.50,608.50 381.52,611.00 381.80,613.00 C382.08,615.00 382.47,616.33 383.10,618.00 C383.73,619.67 384.60,621.33 385.60,623.00 C386.60,624.67 388.02,626.33 389.10,628.00 C390.18,629.67 391.18,631.50 392.10,633.00 C393.02,634.50 394.05,635.97 394.60,637.00 C395.15,638.03 395.29,638.83 395.43,639.20 Q396.10,641.00 394.30,641.00 L366.90,641.00 Q365.10,641.00 365.77,639.20 C365.91,638.83 366.05,638.03 366.60,637.00 C367.15,635.97 368.18,634.50 369.10,633.00 C370.02,631.50 371.02,629.67 372.10,628.00 C373.18,626.33 374.60,624.67 375.60,623.00 C376.60,621.33 377.47,619.67 378.10,618.00 C378.73,616.33 379.12,615.00 379.40,613.00 C379.68,611.00 379.70,608.50 379.80,606.00 C379.90,603.50 380.00,600.17 380.00,598.00 C380.00,595.83 380.03,594.50 379.80,593.00 C379.57,591.50 379.05,590.33 378.60,589.00 C378.15,587.67 377.47,586.33 377.10,585.00 C376.73,583.67 376.48,581.94 376.40,581.00 C376.32,580.06 376.59,579.61 376.62,579.33 Q376.80,578.00 378.13,578.00 Z" fill="none" stroke="#5a5a5a" stroke-width="1.5" stroke-linejoin="round"/>
<path d="M420.80,606.70 L435.80,606.70 Q437.60,606.70 437.98,608.50 C438.03,608.75 438.00,609.08 438.30,610.00 C438.60,610.92 439.17,612.67 439.80,614.00 C440.43,615.33 441.50,616.73 442.10,618.00 C442.70,619.27 443.33,620.43 443.40,621.60 C443.47,622.77 443.02,623.93 442.50,625.00 C441.98,626.07 441.08,626.92 440.30,628.00 C439.52,629.08 438.47,630.28 437.80,631.50 C437.13,632.72 436.38,634.13 436.30,635.30 C436.22,636.47 436.80,637.47 437.30,638.50 C437.80,639.53 438.67,640.58 439.30,641.50 C439.93,642.42 440.67,643.18 441.10,644.00 C441.53,644.82 441.87,645.48 441.90,646.40 C441.93,647.32 441.50,648.77 441.30,649.50 C441.10,650.23 440.78,650.58 440.67,650.80 Q439.80,652.60 438.00,652.60 L418.60,652.60 Q416.80,652.60 415.93,650.80 C415.82,650.58 415.50,650.23 415.30,649.50 C415.10,648.77 414.67,647.32 414.70,646.40 C414.73,645.48 415.07,644.82 415.50,644.00 C415.93,643.18 416.67,642.42 417.30,641.50 C417.93,640.58 418.80,639.53 419.30,638.50 C419.80,637.47 420.38,636.47 420.30,635.30 C420.22,634.13 419.47,632.72 418.80,631.50 C418.13,630.28 417.08,629.08 416.30,628.00 C415.52,626.92 414.62,626.07 414.10,625.00 C413.58,623.93 413.13,622.77 413.20,621.60 C413.27,620.43 413.90,619.27 414.50,618.00 C415.10,616.73 416.17,615.33 416.80,614.00 C417.43,612.67 418.00,610.92 418.30,610.00 C418.60,609.08 418.57,608.75 418.62,608.50 Q419.00,606.70 420.80,606.70 Z" fill="none" stroke="#a3a3a3" stroke-width="1.5" stroke-linejoin="round"/>
<line x1="321.61" y1="547.70" x2="345.39" y2="547.70" stroke="#ff0000" stroke-width="2.35" stroke-dasharray="1.6 0.5"/>
<line x1="322.20" y1="576.90" x2="344.80" y2="576.90" stroke="#ff0000" stroke-width="2.35" stroke-dasharray="1.6 0.5"/>
<line x1="321.06" y1="623.40" x2="345.94" y2="623.40" stroke="#ff0000" stroke-width="2.35" stroke-dasharray="1.6 0.5"/>
<line x1="372.60" y1="638.50" x2="388.60" y2="638.50" stroke="#ff0000" stroke-width="2.35" stroke-dasharray="1.6 0.5"/>
<line x1="418.80" y1="614.20" x2="437.80" y2="614.20" stroke="#ff0000" stroke-width="2.35" stroke-dasharray="1.6 0.5"/>
<line x1="417.04" y1="627.10" x2="439.56" y2="627.10" stroke="#ff0000" stroke-width="2.35" stroke-dasharray="1.6 0.5"/>
<line x1="416.68" y1="649.40" x2="439.92" y2="649.40" stroke="#ff0000" stroke-width="2.35" stroke-dasharray="1.6 0.5"/>
<circle cx="333.50" cy="535.50" r="3.6" fill="#000"/>
<circle cx="333.50" cy="559.10" r="3.6" fill="#000"/>
<circle cx="333.50" cy="576.90" r="3.6" fill="#000"/>
<circle cx="333.50" cy="614.90" r="3.6" fill="#000"/>
<circle cx="333.50" cy="631.50" r="3.6" fill="#000"/>
<rect x="377.00" y="574.60" width="7.2" height="7.2" rx="0.6" fill="#5a5a5a"/>
<rect x="364.60" y="637.40" width="7.2" height="7.2" rx="0.6" fill="#5a5a5a"/>
<rect x="373.30" y="632.90" width="7.2" height="7.2" rx="0.6" fill="#5a5a5a"/>
<rect x="381.20" y="636.60" width="7.2" height="7.2" rx="0.6" fill="#5a5a5a"/>
<rect x="390.20" y="634.60" width="7.2" height="7.2" rx="0.6" fill="#5a5a5a"/>
<path d="M428.30,602.85 L432.20,610.15 L424.40,610.15 Z" fill="#a3a3a3" stroke="#a3a3a3" stroke-width="0.6" stroke-linejoin="round"/>
<path d="M434.70,617.75 L438.60,625.05 L430.80,625.05 Z" fill="#a3a3a3" stroke="#a3a3a3" stroke-width="0.6" stroke-linejoin="round"/>
<path d="M421.60,623.95 L425.50,631.25 L417.70,631.25 Z" fill="#a3a3a3" stroke="#a3a3a3" stroke-width="0.6" stroke-linejoin="round"/>
<path d="M428.30,640.85 L432.20,648.15 L424.40,648.15 Z" fill="#a3a3a3" stroke="#a3a3a3" stroke-width="0.6" stroke-linejoin="round"/>
<path d="M428.30,650.05 L432.20,657.35 L424.40,657.35 Z" fill="#a3a3a3" stroke="#a3a3a3" stroke-width="0.6" stroke-linejoin="round"/>
<line x1="526.20" y1="509.00" x2="526.20" y2="668.00" stroke="#111" stroke-width="1.9" />
<line x1="519.40" y1="509.90" x2="526.20" y2="509.90" stroke="#111" stroke-width="1.8" />
<text x="517.60" y="513.80" font-size="11.5" font-weight="bold" font-style="normal" text-anchor="end" fill="#222" stroke="#222" stroke-width="0.35" >10</text>
<line x1="519.40" y1="541.30" x2="526.20" y2="541.30" stroke="#111" stroke-width="1.8" />
<text x="517.60" y="545.20" font-size="11.5" font-weight="bold" font-style="normal" text-anchor="end" fill="#222" stroke="#222" stroke-width="0.35" >8</text>
<line x1="519.40" y1="572.80" x2="526.20" y2="572.80" stroke="#111" stroke-width="1.8" />
<text x="517.60" y="576.70" font-size="11.5" font-weight="bold" font-style="normal" text-anchor="end" fill="#222" stroke="#222" stroke-width="0.35" >6</text>
<line x1="519.40" y1="604.20" x2="526.20" y2="604.20" stroke="#111" stroke-width="1.8" />
<text x="517.60" y="608.10" font-size="11.5" font-weight="bold" font-style="normal" text-anchor="end" fill="#222" stroke="#222" stroke-width="0.35" >4</text>
<line x1="519.40" y1="635.60" x2="526.20" y2="635.60" stroke="#111" stroke-width="1.8" />
<text x="517.60" y="639.50" font-size="11.5" font-weight="bold" font-style="normal" text-anchor="end" fill="#222" stroke="#222" stroke-width="0.35" >2</text>
<line x1="519.40" y1="667.10" x2="526.20" y2="667.10" stroke="#111" stroke-width="1.8" />
<text x="517.60" y="671.00" font-size="11.5" font-weight="bold" font-style="normal" text-anchor="end" fill="#222" stroke="#222" stroke-width="0.35" >0</text>
<line x1="525.30" y1="667.10" x2="685.00" y2="667.10" stroke="#111" stroke-width="1.9" />
<line x1="557.90" y1="667.10" x2="557.90" y2="673.60" stroke="#111" stroke-width="1.8" />
<text x="558.90" y="686.50" font-size="11.7" font-weight="bold" font-style="normal" text-anchor="middle" fill="#222" stroke="#222" stroke-width="0.35" >ln25</text>
<line x1="605.10" y1="667.10" x2="605.10" y2="673.60" stroke="#111" stroke-width="1.8" />
<text x="606.10" y="686.50" font-size="11.7" font-weight="bold" font-style="normal" text-anchor="middle" fill="#222" stroke="#222" stroke-width="0.35" >ob35</text>
<line x1="652.60" y1="667.10" x2="652.60" y2="673.60" stroke="#111" stroke-width="1.8" />
<text x="653.60" y="686.50" font-size="11.7" font-weight="bold" font-style="normal" text-anchor="middle" fill="#222" stroke="#222" stroke-width="0.35" >ob40</text>
<text transform="translate(503.25,590.75) rotate(-90)" font-size="12" font-weight="bold" text-anchor="middle" fill="#222" stroke="#222" stroke-width="0.35">fpkm truncated</text>
<text x="683.60" y="518.90" font-size="11.5" font-weight="bold" font-style="normal" text-anchor="end" fill="#1a1a1a" stroke="#1a1a1a" stroke-width="0.35" >ASCsub</text>
<text x="683.60" y="532.90" font-size="11.5" font-weight="normal" font-style="italic" text-anchor="end" fill="#333"  stroke="#333" stroke-width="0.2">PGF</text>
<path d="M554.72,533.20 L561.08,533.20 Q562.80,533.20 562.66,534.92 C562.64,535.26 562.66,535.90 562.50,537.00 C562.34,538.10 562.00,539.97 561.70,541.50 C561.40,543.03 560.98,544.45 560.70,546.20 C560.42,547.95 560.20,549.88 560.00,552.00 C559.80,554.12 559.67,556.57 559.50,558.90 C559.33,561.23 559.13,563.98 559.00,566.00 C558.87,568.02 558.77,569.37 558.70,571.00 C558.63,572.63 558.52,574.13 558.60,575.80 C558.68,577.47 558.85,578.88 559.20,581.00 C559.55,583.12 560.17,586.17 560.70,588.50 C561.23,590.83 561.80,592.88 562.40,595.00 C563.00,597.12 563.65,599.12 564.30,601.20 C564.95,603.28 565.67,605.38 566.30,607.50 C566.93,609.62 567.55,611.82 568.10,613.90 C568.65,615.98 569.15,617.88 569.60,620.00 C570.05,622.12 570.43,624.43 570.80,626.60 C571.17,628.77 571.55,630.88 571.80,633.00 C572.05,635.12 572.23,637.22 572.30,639.30 C572.37,641.38 572.37,643.38 572.20,645.50 C572.03,647.62 571.62,650.08 571.30,652.00 C570.98,653.92 570.65,655.58 570.30,657.00 C569.95,658.42 569.45,659.47 569.20,660.50 C568.95,661.53 568.85,662.75 568.78,663.20 Q568.50,665.00 566.70,665.00 L549.10,665.00 Q547.30,665.00 547.02,663.20 C546.95,662.75 546.85,661.53 546.60,660.50 C546.35,659.47 545.85,658.42 545.50,657.00 C545.15,655.58 544.82,653.92 544.50,652.00 C544.18,650.08 543.77,647.62 543.60,645.50 C543.43,643.38 543.43,641.38 543.50,639.30 C543.57,637.22 543.75,635.12 544.00,633.00 C544.25,630.88 544.63,628.77 545.00,626.60 C545.37,624.43 545.75,622.12 546.20,620.00 C546.65,617.88 547.15,615.98 547.70,613.90 C548.25,611.82 548.87,609.62 549.50,607.50 C550.13,605.38 550.85,603.28 551.50,601.20 C552.15,599.12 552.80,597.12 553.40,595.00 C554.00,592.88 554.57,590.83 555.10,588.50 C555.63,586.17 556.25,583.12 556.60,581.00 C556.95,578.88 557.12,577.47 557.20,575.80 C557.28,574.13 557.17,572.63 557.10,571.00 C557.03,569.37 556.93,568.02 556.80,566.00 C556.67,563.98 556.47,561.23 556.30,558.90 C556.13,556.57 556.00,554.12 555.80,552.00 C555.60,549.88 555.38,547.95 555.10,546.20 C554.82,544.45 554.40,543.03 554.10,541.50 C553.80,539.97 553.46,538.10 553.30,537.00 C553.14,535.90 553.16,535.26 553.14,534.92 Q553.00,533.20 554.72,533.20 Z" fill="none" stroke="#000" stroke-width="1.7" stroke-linejoin="round"/>
<path d="M590.97,653.20 L619.23,653.20 Q620.40,653.20 618.78,654.37 C618.75,654.39 619.21,654.23 618.60,654.50 C617.99,654.77 615.98,655.48 615.10,656.00 C614.22,656.52 613.30,657.05 613.30,657.60 C613.30,658.15 614.30,658.73 615.10,659.30 C615.90,659.87 617.27,660.38 618.10,661.00 C618.93,661.62 619.74,662.40 620.10,663.00 C620.46,663.60 620.22,664.33 620.24,664.60 Q620.40,666.40 618.60,666.40 L591.60,666.40 Q589.80,666.40 589.96,664.60 C589.98,664.33 589.74,663.60 590.10,663.00 C590.46,662.40 591.27,661.62 592.10,661.00 C592.93,660.38 594.30,659.87 595.10,659.30 C595.90,658.73 596.90,658.15 596.90,657.60 C596.90,657.05 595.98,656.52 595.10,656.00 C594.22,655.48 592.21,654.77 591.60,654.50 C590.99,654.23 591.45,654.39 591.42,654.37 Q589.80,653.20 590.97,653.20 Z" fill="none" stroke="#5a5a5a" stroke-width="1.5" stroke-linejoin="round"/>
<path d="M651.17,644.00 L654.03,644.00 Q654.80,644.00 654.65,644.77 C654.57,645.14 654.29,646.13 654.20,647.00 C654.11,647.87 653.87,649.00 654.10,650.00 C654.33,651.00 654.85,652.00 655.60,653.00 C656.35,654.00 657.35,655.00 658.60,656.00 C659.85,657.00 661.85,658.00 663.10,659.00 C664.35,660.00 665.45,661.05 666.10,662.00 C666.75,662.95 666.85,664.25 667.00,664.70 Q667.60,666.50 665.80,666.50 L639.40,666.50 Q637.60,666.50 638.20,664.70 C638.35,664.25 638.45,662.95 639.10,662.00 C639.75,661.05 640.85,660.00 642.10,659.00 C643.35,658.00 645.35,657.00 646.60,656.00 C647.85,655.00 648.85,654.00 649.60,653.00 C650.35,652.00 650.87,651.00 651.10,650.00 C651.33,649.00 651.09,647.87 651.00,647.00 C650.91,646.13 650.63,645.14 650.55,644.77 Q650.40,644.00 651.17,644.00 Z" fill="none" stroke="#a3a3a3" stroke-width="1.5" stroke-linejoin="round"/>
<line x1="557.10" y1="579.40" x2="558.70" y2="579.40" stroke="#ff0000" stroke-width="2.35" stroke-dasharray="1.6 0.5"/>
<line x1="546.02" y1="629.00" x2="569.77" y2="629.00" stroke="#ff0000" stroke-width="2.35" stroke-dasharray="1.6 0.5"/>
<line x1="547.47" y1="658.80" x2="568.33" y2="658.80" stroke="#ff0000" stroke-width="2.35" stroke-dasharray="1.6 0.5"/>
<line x1="593.47" y1="654.70" x2="616.73" y2="654.70" stroke="#ff0000" stroke-width="2.35" stroke-dasharray="1.6 0.5"/>
<line x1="593.10" y1="662.00" x2="617.10" y2="662.00" stroke="#ff0000" stroke-width="2.35" stroke-dasharray="1.6 0.5"/>
<line x1="642.60" y1="661.00" x2="662.60" y2="661.00" stroke="#ff0000" stroke-width="2.35" stroke-dasharray="1.6 0.5"/>
<circle cx="557.90" cy="532.80" r="3.6" fill="#000"/>
<circle cx="551.50" cy="629.00" r="3.6" fill="#000"/>
<circle cx="564.60" cy="627.80" r="3.6" fill="#000"/>
<circle cx="557.90" cy="652.10" r="3.6" fill="#000"/>
<circle cx="557.90" cy="665.50" r="3.6" fill="#000"/>
<rect x="588.80" y="660.60" width="7.2" height="7.2" rx="0.6" fill="#5a5a5a"/>
<rect x="601.50" y="647.90" width="7.2" height="7.2" rx="0.6" fill="#5a5a5a"/>
<rect x="601.50" y="654.90" width="7.2" height="7.2" rx="0.6" fill="#5a5a5a"/>
<rect x="614.40" y="649.60" width="7.2" height="7.2" rx="0.6" fill="#5a5a5a"/>
<rect x="614.40" y="659.90" width="7.2" height="7.2" rx="0.6" fill="#5a5a5a"/>
<path d="M652.60,639.95 L656.50,647.25 L648.70,647.25 Z" fill="#a3a3a3" stroke="#a3a3a3" stroke-width="0.6" stroke-linejoin="round"/>
<path d="M639.90,659.65 L643.80,666.95 L636.00,666.95 Z" fill="#a3a3a3" stroke="#a3a3a3" stroke-width="0.6" stroke-linejoin="round"/>
<path d="M648.60,655.25 L652.50,662.55 L644.70,662.55 Z" fill="#a3a3a3" stroke="#a3a3a3" stroke-width="0.6" stroke-linejoin="round"/>
<path d="M656.50,658.15 L660.40,665.45 L652.60,665.45 Z" fill="#a3a3a3" stroke="#a3a3a3" stroke-width="0.6" stroke-linejoin="round"/>
<path d="M664.70,655.95 L668.60,663.25 L660.80,663.25 Z" fill="#a3a3a3" stroke="#a3a3a3" stroke-width="0.6" stroke-linejoin="round"/>
<text x="0.30" y="714.30" font-size="23.6" font-weight="bold" font-style="normal" text-anchor="start" fill="#000" stroke="#000" stroke-width="0.1" >E</text>
<line x1="93.20" y1="717.90" x2="93.20" y2="874.40" stroke="#111" stroke-width="1.9" />
<line x1="86.40" y1="718.80" x2="93.20" y2="718.80" stroke="#111" stroke-width="1.8" />
<text x="84.60" y="722.70" font-size="11.5" font-weight="bold" font-style="normal" text-anchor="end" fill="#222" stroke="#222" stroke-width="0.35" >3.5</text>
<line x1="86.40" y1="740.90" x2="93.20" y2="740.90" stroke="#111" stroke-width="1.8" />
<text x="84.60" y="744.80" font-size="11.5" font-weight="bold" font-style="normal" text-anchor="end" fill="#222" stroke="#222" stroke-width="0.35" >3.0</text>
<line x1="86.40" y1="763.00" x2="93.20" y2="763.00" stroke="#111" stroke-width="1.8" />
<text x="84.60" y="766.90" font-size="11.5" font-weight="bold" font-style="normal" text-anchor="end" fill="#222" stroke="#222" stroke-width="0.35" >2.5</text>
<line x1="86.40" y1="785.10" x2="93.20" y2="785.10" stroke="#111" stroke-width="1.8" />
<text x="84.60" y="789.00" font-size="11.5" font-weight="bold" font-style="normal" text-anchor="end" fill="#222" stroke="#222" stroke-width="0.35" >2.0</text>
<line x1="86.40" y1="807.20" x2="93.20" y2="807.20" stroke="#111" stroke-width="1.8" />
<text x="84.60" y="811.10" font-size="11.5" font-weight="bold" font-style="normal" text-anchor="end" fill="#222" stroke="#222" stroke-width="0.35" >1.5</text>
<line x1="86.40" y1="829.30" x2="93.20" y2="829.30" stroke="#111" stroke-width="1.8" />
<text x="84.60" y="833.20" font-size="11.5" font-weight="bold" font-style="normal" text-anchor="end" fill="#222" stroke="#222" stroke-width="0.35" >1.0</text>
<line x1="86.40" y1="851.40" x2="93.20" y2="851.40" stroke="#111" stroke-width="1.8" />
<text x="84.60" y="855.30" font-size="11.5" font-weight="bold" font-style="normal" text-anchor="end" fill="#222" stroke="#222" stroke-width="0.35" >0.5</text>
<line x1="86.40" y1="873.50" x2="93.20" y2="873.50" stroke="#111" stroke-width="1.8" />
<text x="84.60" y="877.40" font-size="11.5" font-weight="bold" font-style="normal" text-anchor="end" fill="#222" stroke="#222" stroke-width="0.35" >0.0</text>
<path d="M104.60,873.50 L104.60,830.70 L123.00,830.70 L123.00,873.50" fill="none" stroke="#000" stroke-width="1.55"/>
<path d="M135.20,873.50 L135.20,821.10 L153.90,821.10 L153.90,873.50" fill="none" stroke="#7d7d7d" stroke-width="1.55"/>
<path d="M166.40,873.50 L166.40,792.60 L184.80,792.60 L184.80,873.50" fill="none" stroke="#8f8f8f" stroke-width="1.55"/>
<line x1="113.70" y1="813.90" x2="113.70" y2="845.20" stroke="#000" stroke-width="1.6" />
<line x1="108.50" y1="813.90" x2="118.90" y2="813.90" stroke="#000" stroke-width="1.6" />
<line x1="108.50" y1="845.20" x2="118.90" y2="845.20" stroke="#000" stroke-width="1.6" />
<line x1="144.80" y1="809.60" x2="144.80" y2="830.70" stroke="#7d7d7d" stroke-width="1.6" />
<line x1="139.60" y1="809.60" x2="150.00" y2="809.60" stroke="#7d7d7d" stroke-width="1.6" />
<line x1="139.60" y1="830.70" x2="150.00" y2="830.70" stroke="#7d7d7d" stroke-width="1.6" />
<line x1="175.80" y1="770.40" x2="175.80" y2="812.50" stroke="#8f8f8f" stroke-width="1.6" />
<line x1="170.60" y1="770.40" x2="181.00" y2="770.40" stroke="#8f8f8f" stroke-width="1.6" />
<line x1="170.60" y1="812.50" x2="181.00" y2="812.50" stroke="#8f8f8f" stroke-width="1.6" />
<circle cx="113.10" cy="789.10" r="2.3" fill="#000"/>
<circle cx="113.10" cy="798.40" r="2.3" fill="#000"/>
<circle cx="113.10" cy="833.50" r="2.3" fill="#000"/>
<circle cx="109.60" cy="863.10" r="2.3" fill="#000"/>
<circle cx="117.00" cy="863.10" r="2.3" fill="#000"/>
<rect x="142.40" y="787.40" width="4.4" height="4.4" rx="0.6" fill="#7d7d7d"/>
<rect x="142.40" y="809.10" width="4.4" height="4.4" rx="0.6" fill="#7d7d7d"/>
<rect x="142.40" y="813.80" width="4.4" height="4.4" rx="0.6" fill="#7d7d7d"/>
<rect x="142.40" y="832.00" width="4.4" height="4.4" rx="0.6" fill="#7d7d7d"/>
<rect x="142.40" y="848.80" width="4.4" height="4.4" rx="0.6" fill="#7d7d7d"/>
<path d="M175.70,721.15 L178.10,725.85 L173.30,725.85 Z" fill="#8f8f8f" stroke="#8f8f8f" stroke-width="0.6" stroke-linejoin="round"/>
<path d="M175.70,758.05 L178.10,762.75 L173.30,762.75 Z" fill="#8f8f8f" stroke="#8f8f8f" stroke-width="0.6" stroke-linejoin="round"/>
<path d="M175.70,816.25 L178.10,820.95 L173.30,820.95 Z" fill="#8f8f8f" stroke="#8f8f8f" stroke-width="0.6" stroke-linejoin="round"/>
<path d="M175.70,822.75 L178.10,827.45 L173.30,827.45 Z" fill="#8f8f8f" stroke="#8f8f8f" stroke-width="0.6" stroke-linejoin="round"/>
<path d="M175.70,826.25 L178.10,830.95 L173.30,830.95 Z" fill="#8f8f8f" stroke="#8f8f8f" stroke-width="0.6" stroke-linejoin="round"/>
<line x1="92.30" y1="873.50" x2="196.70" y2="873.50" stroke="#111" stroke-width="1.9" />
<line x1="113.70" y1="873.50" x2="113.70" y2="880.00" stroke="#111" stroke-width="1.8" />
<text x="115.20" y="890.80" font-size="11.3" font-weight="bold" font-style="normal" text-anchor="middle" fill="#222" stroke="#222" stroke-width="0.35" >ln25</text>
<line x1="144.80" y1="873.50" x2="144.80" y2="880.00" stroke="#111" stroke-width="1.8" />
<text x="147.00" y="890.80" font-size="11.3" font-weight="bold" font-style="normal" text-anchor="middle" fill="#222" stroke="#222" stroke-width="0.35" >ob35</text>
<line x1="175.80" y1="873.50" x2="175.80" y2="880.00" stroke="#111" stroke-width="1.8" />
<text x="177.50" y="890.80" font-size="11.3" font-weight="bold" font-style="normal" text-anchor="middle" fill="#222" stroke="#222" stroke-width="0.35" >ob40</text>
<text transform="translate(63.30,794.50) rotate(-90)" font-size="12" font-weight="bold" text-anchor="middle" fill="#222" stroke="#222" stroke-width="0.35">RQ</text>
<text x="99.30" y="728.80" font-size="11.6" font-weight="normal" font-style="italic" text-anchor="start" fill="#333"  stroke="#333" stroke-width="0.2">CDH1</text>
<line x1="333.90" y1="717.60" x2="333.90" y2="874.60" stroke="#111" stroke-width="1.9" />
<line x1="327.10" y1="718.50" x2="333.90" y2="718.50" stroke="#111" stroke-width="1.8" />
<text x="325.30" y="722.40" font-size="11.5" font-weight="bold" font-style="normal" text-anchor="end" fill="#222" stroke="#222" stroke-width="0.35" >2.5</text>
<line x1="327.10" y1="749.50" x2="333.90" y2="749.50" stroke="#111" stroke-width="1.8" />
<text x="325.30" y="753.40" font-size="11.5" font-weight="bold" font-style="normal" text-anchor="end" fill="#222" stroke="#222" stroke-width="0.35" >2.0</text>
<line x1="327.10" y1="780.60" x2="333.90" y2="780.60" stroke="#111" stroke-width="1.8" />
<text x="325.30" y="784.50" font-size="11.5" font-weight="bold" font-style="normal" text-anchor="end" fill="#222" stroke="#222" stroke-width="0.35" >1.5</text>
<line x1="327.10" y1="811.60" x2="333.90" y2="811.60" stroke="#111" stroke-width="1.8" />
<text x="325.30" y="815.50" font-size="11.5" font-weight="bold" font-style="normal" text-anchor="end" fill="#222" stroke="#222" stroke-width="0.35" >1.0</text>
<line x1="327.10" y1="842.70" x2="333.90" y2="842.70" stroke="#111" stroke-width="1.8" />
<text x="325.30" y="846.60" font-size="11.5" font-weight="bold" font-style="normal" text-anchor="end" fill="#222" stroke="#222" stroke-width="0.35" >0.5</text>
<line x1="327.10" y1="873.70" x2="333.90" y2="873.70" stroke="#111" stroke-width="1.8" />
<text x="325.30" y="877.60" font-size="11.5" font-weight="bold" font-style="normal" text-anchor="end" fill="#222" stroke="#222" stroke-width="0.35" >0.0</text>
<path d="M344.80,873.70 L344.80,812.90 L363.50,812.90 L363.50,873.70" fill="none" stroke="#000" stroke-width="1.55"/>
<path d="M375.90,873.70 L375.90,859.60 L394.60,859.60 L394.60,873.70" fill="none" stroke="#7d7d7d" stroke-width="1.55"/>
<path d="M407.00,873.70 L407.00,848.90 L425.40,848.90 L425.40,873.70" fill="none" stroke="#8f8f8f" stroke-width="1.55"/>
<line x1="354.20" y1="787.90" x2="354.20" y2="835.00" stroke="#000" stroke-width="1.6" />
<line x1="349.00" y1="787.90" x2="359.40" y2="787.90" stroke="#000" stroke-width="1.6" />
<line x1="385.20" y1="850.80" x2="385.20" y2="866.00" stroke="#7d7d7d" stroke-width="1.6" />
<line x1="380.00" y1="850.80" x2="390.40" y2="850.80" stroke="#7d7d7d" stroke-width="1.6" />
<line x1="416.20" y1="845.90" x2="416.20" y2="851.30" stroke="#8f8f8f" stroke-width="1.6" />
<line x1="411.00" y1="845.90" x2="421.40" y2="845.90" stroke="#8f8f8f" stroke-width="1.6" />
<line x1="411.00" y1="851.30" x2="421.40" y2="851.30" stroke="#8f8f8f" stroke-width="1.6" />
<circle cx="354.20" cy="722.50" r="2.3" fill="#000"/>
<circle cx="354.20" cy="808.20" r="2.3" fill="#000"/>
<circle cx="350.90" cy="834.20" r="2.3" fill="#000"/>
<circle cx="357.20" cy="837.00" r="2.3" fill="#000"/>
<circle cx="354.20" cy="856.80" r="2.3" fill="#000"/>
<rect x="383.10" y="824.70" width="4.4" height="4.4" rx="0.6" fill="#7d7d7d"/>
<rect x="380.00" y="862.80" width="4.4" height="4.4" rx="0.6" fill="#7d7d7d"/>
<rect x="386.10" y="861.60" width="4.4" height="4.4" rx="0.6" fill="#7d7d7d"/>
<rect x="380.00" y="866.60" width="4.4" height="4.4" rx="0.6" fill="#7d7d7d"/>
<rect x="386.10" y="866.60" width="4.4" height="4.4" rx="0.6" fill="#7d7d7d"/>
<path d="M416.10,837.45 L418.50,842.15 L413.70,842.15 Z" fill="#8f8f8f" stroke="#8f8f8f" stroke-width="0.6" stroke-linejoin="round"/>
<path d="M413.30,843.05 L415.70,847.75 L410.90,847.75 Z" fill="#8f8f8f" stroke="#8f8f8f" stroke-width="0.6" stroke-linejoin="round"/>
<path d="M419.10,842.65 L421.50,847.35 L416.70,847.35 Z" fill="#8f8f8f" stroke="#8f8f8f" stroke-width="0.6" stroke-linejoin="round"/>
<path d="M416.10,846.45 L418.50,851.15 L413.70,851.15 Z" fill="#8f8f8f" stroke="#8f8f8f" stroke-width="0.6" stroke-linejoin="round"/>
<path d="M416.10,857.35 L418.50,862.05 L413.70,862.05 Z" fill="#8f8f8f" stroke="#8f8f8f" stroke-width="0.6" stroke-linejoin="round"/>
<line x1="333.00" y1="873.70" x2="437.40" y2="873.70" stroke="#111" stroke-width="1.9" />
<line x1="354.20" y1="873.70" x2="354.20" y2="880.20" stroke="#111" stroke-width="1.8" />
<text x="355.70" y="891.00" font-size="11.3" font-weight="bold" font-style="normal" text-anchor="middle" fill="#222" stroke="#222" stroke-width="0.35" >ln25</text>
<line x1="385.20" y1="873.70" x2="385.20" y2="880.20" stroke="#111" stroke-width="1.8" />
<text x="387.40" y="891.00" font-size="11.3" font-weight="bold" font-style="normal" text-anchor="middle" fill="#222" stroke="#222" stroke-width="0.35" >ob35</text>
<line x1="416.20" y1="873.70" x2="416.20" y2="880.20" stroke="#111" stroke-width="1.8" />
<text x="417.90" y="891.00" font-size="11.3" font-weight="bold" font-style="normal" text-anchor="middle" fill="#222" stroke="#222" stroke-width="0.35" >ob40</text>
<text transform="translate(304.20,794.50) rotate(-90)" font-size="12" font-weight="bold" text-anchor="middle" fill="#222" stroke="#222" stroke-width="0.35">RQ</text>
<text x="437.80" y="733.00" font-size="11.6" font-weight="normal" font-style="italic" text-anchor="end" fill="#333"  stroke="#333" stroke-width="0.2">CXCL12</text>
<path d="M386.20,782.30 L386.20,817.10" fill="none" stroke="#666" stroke-width="1.5"/>
<path d="M354.60,782.30 L386.90,782.30" fill="none" stroke="#1a1a1a" stroke-width="1.3"/>
<text x="370.40" y="782.60" font-size="10" font-weight="normal" font-style="normal" text-anchor="middle" fill="#111"  >*</text>
<line x1="572.90" y1="717.60" x2="572.90" y2="874.60" stroke="#111" stroke-width="1.9" />
<line x1="566.10" y1="718.50" x2="572.90" y2="718.50" stroke="#111" stroke-width="1.8" />
<text x="564.30" y="722.40" font-size="11.5" font-weight="bold" font-style="normal" text-anchor="end" fill="#222" stroke="#222" stroke-width="0.35" >2.5</text>
<line x1="566.10" y1="749.50" x2="572.90" y2="749.50" stroke="#111" stroke-width="1.8" />
<text x="564.30" y="753.40" font-size="11.5" font-weight="bold" font-style="normal" text-anchor="end" fill="#222" stroke="#222" stroke-width="0.35" >2.0</text>
<line x1="566.10" y1="780.60" x2="572.90" y2="780.60" stroke="#111" stroke-width="1.8" />
<text x="564.30" y="784.50" font-size="11.5" font-weight="bold" font-style="normal" text-anchor="end" fill="#222" stroke="#222" stroke-width="0.35" >1.5</text>
<line x1="566.10" y1="811.60" x2="572.90" y2="811.60" stroke="#111" stroke-width="1.8" />
<text x="564.30" y="815.50" font-size="11.5" font-weight="bold" font-style="normal" text-anchor="end" fill="#222" stroke="#222" stroke-width="0.35" >1.0</text>
<line x1="566.10" y1="842.70" x2="572.90" y2="842.70" stroke="#111" stroke-width="1.8" />
<text x="564.30" y="846.60" font-size="11.5" font-weight="bold" font-style="normal" text-anchor="end" fill="#222" stroke="#222" stroke-width="0.35" >0.5</text>
<line x1="566.10" y1="873.70" x2="572.90" y2="873.70" stroke="#111" stroke-width="1.8" />
<text x="564.30" y="877.60" font-size="11.5" font-weight="bold" font-style="normal" text-anchor="end" fill="#222" stroke="#222" stroke-width="0.35" >0.0</text>
<path d="M583.90,873.70 L583.90,812.90 L602.90,812.90 L602.90,873.70" fill="none" stroke="#000" stroke-width="1.55"/>
<path d="M614.40,873.70 L614.40,859.30 L633.60,859.30 L633.60,873.70" fill="none" stroke="#7d7d7d" stroke-width="1.55"/>
<path d="M645.90,873.70 L645.90,854.00 L664.50,854.00 L664.50,873.70" fill="none" stroke="#8f8f8f" stroke-width="1.55"/>
<line x1="593.00" y1="787.90" x2="593.00" y2="835.30" stroke="#000" stroke-width="1.6" />
<line x1="587.80" y1="787.90" x2="598.20" y2="787.90" stroke="#000" stroke-width="1.6" />
<line x1="587.80" y1="835.30" x2="598.20" y2="835.30" stroke="#000" stroke-width="1.6" />
<line x1="624.10" y1="853.60" x2="624.10" y2="862.80" stroke="#7d7d7d" stroke-width="1.6" />
<line x1="618.90" y1="853.60" x2="629.30" y2="853.60" stroke="#7d7d7d" stroke-width="1.6" />
<line x1="618.90" y1="862.80" x2="629.30" y2="862.80" stroke="#7d7d7d" stroke-width="1.6" />
<line x1="655.20" y1="850.80" x2="655.20" y2="856.00" stroke="#8f8f8f" stroke-width="1.6" />
<line x1="650.00" y1="850.80" x2="660.40" y2="850.80" stroke="#8f8f8f" stroke-width="1.6" />
<line x1="650.00" y1="856.00" x2="660.40" y2="856.00" stroke="#8f8f8f" stroke-width="1.6" />
<circle cx="592.70" cy="732.60" r="2.3" fill="#000"/>
<circle cx="592.70" cy="791.00" r="2.3" fill="#000"/>
<circle cx="592.70" cy="824.10" r="2.3" fill="#000"/>
<circle cx="592.70" cy="840.00" r="2.3" fill="#000"/>
<circle cx="592.70" cy="871.50" r="2.3" fill="#000"/>
<rect x="621.90" y="844.30" width="4.4" height="4.4" rx="0.6" fill="#7d7d7d"/>
<rect x="621.90" y="849.30" width="4.4" height="4.4" rx="0.6" fill="#7d7d7d"/>
<rect x="621.90" y="854.30" width="4.4" height="4.4" rx="0.6" fill="#7d7d7d"/>
<rect x="621.90" y="859.30" width="4.4" height="4.4" rx="0.6" fill="#7d7d7d"/>
<rect x="621.90" y="864.30" width="4.4" height="4.4" rx="0.6" fill="#7d7d7d"/>
<rect x="621.90" y="867.00" width="4.4" height="4.4" rx="0.6" fill="#7d7d7d"/>
<path d="M654.80,845.25 L657.20,849.95 L652.40,849.95 Z" fill="#8f8f8f" stroke="#8f8f8f" stroke-width="0.6" stroke-linejoin="round"/>
<path d="M650.50,849.45 L652.90,854.15 L648.10,854.15 Z" fill="#8f8f8f" stroke="#8f8f8f" stroke-width="0.6" stroke-linejoin="round"/>
<path d="M659.00,848.95 L661.40,853.65 L656.60,853.65 Z" fill="#8f8f8f" stroke="#8f8f8f" stroke-width="0.6" stroke-linejoin="round"/>
<path d="M655.00,853.45 L657.40,858.15 L652.60,858.15 Z" fill="#8f8f8f" stroke="#8f8f8f" stroke-width="0.6" stroke-linejoin="round"/>
<path d="M651.50,854.95 L653.90,859.65 L649.10,859.65 Z" fill="#8f8f8f" stroke="#8f8f8f" stroke-width="0.6" stroke-linejoin="round"/>
<line x1="572.00" y1="873.70" x2="676.40" y2="873.70" stroke="#111" stroke-width="1.9" />
<line x1="593.00" y1="873.70" x2="593.00" y2="880.20" stroke="#111" stroke-width="1.8" />
<text x="594.50" y="891.00" font-size="11.3" font-weight="bold" font-style="normal" text-anchor="middle" fill="#222" stroke="#222" stroke-width="0.35" >ln25</text>
<line x1="624.10" y1="873.70" x2="624.10" y2="880.20" stroke="#111" stroke-width="1.8" />
<text x="626.30" y="891.00" font-size="11.3" font-weight="bold" font-style="normal" text-anchor="middle" fill="#222" stroke="#222" stroke-width="0.35" >ob35</text>
<line x1="655.20" y1="873.70" x2="655.20" y2="880.20" stroke="#111" stroke-width="1.8" />
<text x="656.90" y="891.00" font-size="11.3" font-weight="bold" font-style="normal" text-anchor="middle" fill="#222" stroke="#222" stroke-width="0.35" >ob40</text>
<text transform="translate(545.00,794.50) rotate(-90)" font-size="12" font-weight="bold" text-anchor="middle" fill="#222" stroke="#222" stroke-width="0.35">RQ</text>
<text x="674.80" y="727.40" font-size="11.6" font-weight="normal" font-style="italic" text-anchor="end" fill="#333"  stroke="#333" stroke-width="0.2">PGF</text>
</svg>
</body></html>
